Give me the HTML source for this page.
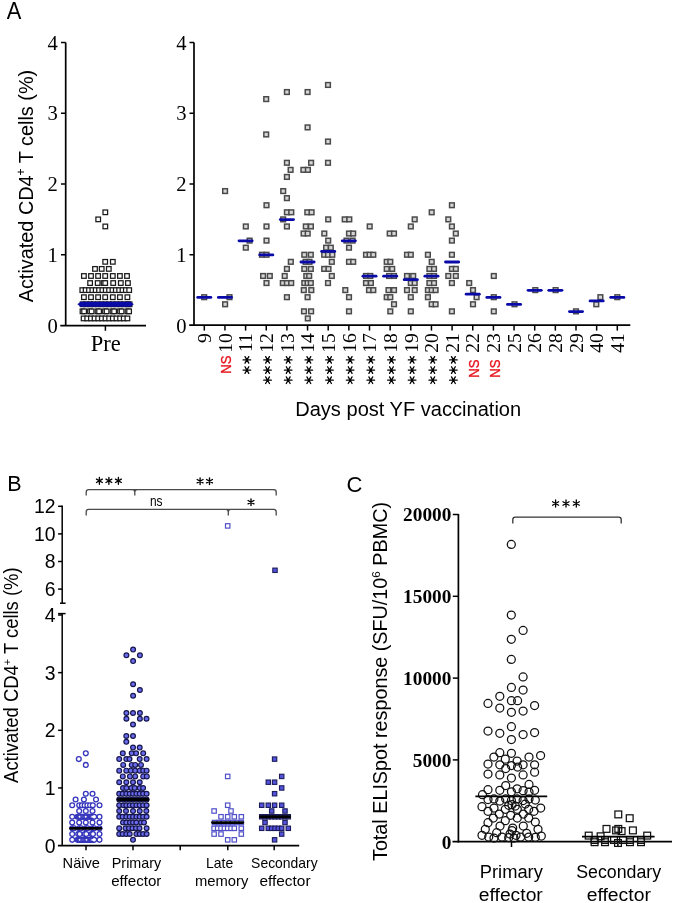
<!DOCTYPE html>
<html><head><meta charset="utf-8"><style>
html,body{margin:0;padding:0;background:#fff;}
svg{display:block;will-change:transform;}
</style></head><body>
<svg width="675" height="903" viewBox="0 0 675 903">
<rect width="675" height="903" fill="#fff"/>
<text x="6.8" y="18.8" font-family='"Liberation Sans", sans-serif' font-size="24.3" fill="#000" textLength="14.6" lengthAdjust="spacingAndGlyphs" >A</text>
<text x="7.3" y="491.2" font-family='"Liberation Sans", sans-serif' font-size="21.5" fill="#000" >B</text>
<text x="346.6" y="491.6" font-family='"Liberation Sans", sans-serif' font-size="22" fill="#000" >C</text>
<line x1="65.7" y1="42.4" x2="65.7" y2="325.6" stroke="#000" stroke-width="1.7" stroke-linecap="butt"/>
<line x1="60.3" y1="325.6" x2="146" y2="325.6" stroke="#000" stroke-width="1.8" stroke-linecap="butt"/>
<text x="57.9" y="332.7" font-family='"Liberation Serif", serif' font-size="20.6" fill="#000" text-anchor="end" >0</text>
<line x1="61" y1="254.75" x2="65.7" y2="254.75" stroke="#000" stroke-width="1.5" stroke-linecap="butt"/>
<text x="57.9" y="261.95" font-family='"Liberation Serif", serif' font-size="20.6" fill="#000" text-anchor="end" >1</text>
<line x1="61" y1="184" x2="65.7" y2="184" stroke="#000" stroke-width="1.5" stroke-linecap="butt"/>
<text x="57.9" y="191.2" font-family='"Liberation Serif", serif' font-size="20.6" fill="#000" text-anchor="end" >2</text>
<line x1="61" y1="113.25" x2="65.7" y2="113.25" stroke="#000" stroke-width="1.5" stroke-linecap="butt"/>
<text x="57.9" y="120.45" font-family='"Liberation Serif", serif' font-size="20.6" fill="#000" text-anchor="end" >3</text>
<line x1="61" y1="42.5" x2="65.7" y2="42.5" stroke="#000" stroke-width="1.5" stroke-linecap="butt"/>
<text x="57.9" y="49.7" font-family='"Liberation Serif", serif' font-size="20.6" fill="#000" text-anchor="end" >4</text>
<line x1="105.4" y1="325.6" x2="105.4" y2="330.8" stroke="#000" stroke-width="1.5" stroke-linecap="butt"/>
<text x="105.75" y="350.9" font-family='"Liberation Serif", serif' font-size="22.5" fill="#000" text-anchor="middle" >Pre</text>
<text transform="translate(32.6,302.3) rotate(-90)" font-family='"Liberation Sans", sans-serif' font-size="19.8" textLength="232.5" lengthAdjust="spacingAndGlyphs">Activated CD4<tspan font-size="12" dy="-7.5">+</tspan><tspan dy="7.5"> T cells (%)</tspan></text>
<rect x="103" y="210" width="4.6" height="4.6" fill="#fff" stroke="#1a1a1a" stroke-width="1.25"/>
<rect x="95.9" y="217.07" width="4.6" height="4.6" fill="#fff" stroke="#1a1a1a" stroke-width="1.25"/>
<rect x="103" y="224.15" width="4.6" height="4.6" fill="#fff" stroke="#1a1a1a" stroke-width="1.25"/>
<rect x="102.9" y="259.52" width="4.6" height="4.6" fill="#fff" stroke="#1a1a1a" stroke-width="1.25"/>
<rect x="110.5" y="259.52" width="4.6" height="4.6" fill="#fff" stroke="#1a1a1a" stroke-width="1.25"/>
<rect x="92.7" y="266.6" width="4.6" height="4.6" fill="#fff" stroke="#1a1a1a" stroke-width="1.25"/>
<rect x="99.4" y="266.6" width="4.6" height="4.6" fill="#fff" stroke="#1a1a1a" stroke-width="1.25"/>
<rect x="106.5" y="266.6" width="4.6" height="4.6" fill="#fff" stroke="#1a1a1a" stroke-width="1.25"/>
<rect x="81.6" y="273.68" width="4.6" height="4.6" fill="#fff" stroke="#1a1a1a" stroke-width="1.25"/>
<rect x="88.7" y="273.68" width="4.6" height="4.6" fill="#fff" stroke="#1a1a1a" stroke-width="1.25"/>
<rect x="95.8" y="273.68" width="4.6" height="4.6" fill="#fff" stroke="#1a1a1a" stroke-width="1.25"/>
<rect x="102.9" y="273.68" width="4.6" height="4.6" fill="#fff" stroke="#1a1a1a" stroke-width="1.25"/>
<rect x="110.5" y="273.68" width="4.6" height="4.6" fill="#fff" stroke="#1a1a1a" stroke-width="1.25"/>
<rect x="117.6" y="273.68" width="4.6" height="4.6" fill="#fff" stroke="#1a1a1a" stroke-width="1.25"/>
<rect x="124.7" y="273.68" width="4.6" height="4.6" fill="#fff" stroke="#1a1a1a" stroke-width="1.25"/>
<rect x="87.8" y="280.75" width="4.6" height="4.6" fill="#fff" stroke="#1a1a1a" stroke-width="1.25"/>
<rect x="95.4" y="280.75" width="4.6" height="4.6" fill="#fff" stroke="#1a1a1a" stroke-width="1.25"/>
<rect x="101.3" y="280.75" width="4.6" height="4.6" fill="#fff" stroke="#1a1a1a" stroke-width="1.25"/>
<rect x="102.9" y="280.75" width="4.6" height="4.6" fill="#fff" stroke="#1a1a1a" stroke-width="1.25"/>
<rect x="110.9" y="280.75" width="4.6" height="4.6" fill="#fff" stroke="#1a1a1a" stroke-width="1.25"/>
<rect x="118.5" y="280.75" width="4.6" height="4.6" fill="#fff" stroke="#1a1a1a" stroke-width="1.25"/>
<rect x="125.6" y="280.75" width="4.6" height="4.6" fill="#fff" stroke="#1a1a1a" stroke-width="1.25"/>
<rect x="80" y="287.82" width="4.6" height="4.6" fill="#fff" stroke="#1a1a1a" stroke-width="1.25"/>
<rect x="83.35" y="287.82" width="4.6" height="4.6" fill="#fff" stroke="#1a1a1a" stroke-width="1.25"/>
<rect x="86.7" y="287.82" width="4.6" height="4.6" fill="#fff" stroke="#1a1a1a" stroke-width="1.25"/>
<rect x="90.05" y="287.82" width="4.6" height="4.6" fill="#fff" stroke="#1a1a1a" stroke-width="1.25"/>
<rect x="93.4" y="287.82" width="4.6" height="4.6" fill="#fff" stroke="#1a1a1a" stroke-width="1.25"/>
<rect x="96.75" y="287.82" width="4.6" height="4.6" fill="#fff" stroke="#1a1a1a" stroke-width="1.25"/>
<rect x="100.1" y="287.82" width="4.6" height="4.6" fill="#fff" stroke="#1a1a1a" stroke-width="1.25"/>
<rect x="103.45" y="287.82" width="4.6" height="4.6" fill="#fff" stroke="#1a1a1a" stroke-width="1.25"/>
<rect x="106.8" y="287.82" width="4.6" height="4.6" fill="#fff" stroke="#1a1a1a" stroke-width="1.25"/>
<rect x="110.15" y="287.82" width="4.6" height="4.6" fill="#fff" stroke="#1a1a1a" stroke-width="1.25"/>
<rect x="113.5" y="287.82" width="4.6" height="4.6" fill="#fff" stroke="#1a1a1a" stroke-width="1.25"/>
<rect x="116.85" y="287.82" width="4.6" height="4.6" fill="#fff" stroke="#1a1a1a" stroke-width="1.25"/>
<rect x="120.2" y="287.82" width="4.6" height="4.6" fill="#fff" stroke="#1a1a1a" stroke-width="1.25"/>
<rect x="123.55" y="287.82" width="4.6" height="4.6" fill="#fff" stroke="#1a1a1a" stroke-width="1.25"/>
<rect x="126.9" y="287.82" width="4.6" height="4.6" fill="#fff" stroke="#1a1a1a" stroke-width="1.25"/>
<rect x="81.6" y="294.9" width="4.6" height="4.6" fill="#fff" stroke="#1a1a1a" stroke-width="1.25"/>
<rect x="88.7" y="294.9" width="4.6" height="4.6" fill="#fff" stroke="#1a1a1a" stroke-width="1.25"/>
<rect x="95.8" y="294.9" width="4.6" height="4.6" fill="#fff" stroke="#1a1a1a" stroke-width="1.25"/>
<rect x="102.9" y="294.9" width="4.6" height="4.6" fill="#fff" stroke="#1a1a1a" stroke-width="1.25"/>
<rect x="110.5" y="294.9" width="4.6" height="4.6" fill="#fff" stroke="#1a1a1a" stroke-width="1.25"/>
<rect x="117.6" y="294.9" width="4.6" height="4.6" fill="#fff" stroke="#1a1a1a" stroke-width="1.25"/>
<rect x="125.1" y="294.9" width="4.6" height="4.6" fill="#fff" stroke="#1a1a1a" stroke-width="1.25"/>
<rect x="80.3" y="301.97" width="4.6" height="4.6" fill="#fff" stroke="#1a1a1a" stroke-width="1.25"/>
<rect x="83.7" y="301.97" width="4.6" height="4.6" fill="#fff" stroke="#1a1a1a" stroke-width="1.25"/>
<rect x="87.8" y="301.97" width="4.6" height="4.6" fill="#fff" stroke="#1a1a1a" stroke-width="1.25"/>
<rect x="91.2" y="301.97" width="4.6" height="4.6" fill="#fff" stroke="#1a1a1a" stroke-width="1.25"/>
<rect x="95.4" y="301.97" width="4.6" height="4.6" fill="#fff" stroke="#1a1a1a" stroke-width="1.25"/>
<rect x="99.2" y="301.97" width="4.6" height="4.6" fill="#fff" stroke="#1a1a1a" stroke-width="1.25"/>
<rect x="102.9" y="301.97" width="4.6" height="4.6" fill="#fff" stroke="#1a1a1a" stroke-width="1.25"/>
<rect x="106.7" y="301.97" width="4.6" height="4.6" fill="#fff" stroke="#1a1a1a" stroke-width="1.25"/>
<rect x="110.5" y="301.97" width="4.6" height="4.6" fill="#fff" stroke="#1a1a1a" stroke-width="1.25"/>
<rect x="114.2" y="301.97" width="4.6" height="4.6" fill="#fff" stroke="#1a1a1a" stroke-width="1.25"/>
<rect x="118" y="301.97" width="4.6" height="4.6" fill="#fff" stroke="#1a1a1a" stroke-width="1.25"/>
<rect x="121.7" y="301.97" width="4.6" height="4.6" fill="#fff" stroke="#1a1a1a" stroke-width="1.25"/>
<rect x="125.6" y="301.97" width="4.6" height="4.6" fill="#fff" stroke="#1a1a1a" stroke-width="1.25"/>
<rect x="127.3" y="301.97" width="4.6" height="4.6" fill="#fff" stroke="#1a1a1a" stroke-width="1.25"/>
<rect x="80.2" y="309.05" width="4.6" height="4.6" fill="#fff" stroke="#1a1a1a" stroke-width="1.25"/>
<rect x="81.8" y="309.05" width="4.6" height="4.6" fill="#fff" stroke="#1a1a1a" stroke-width="1.25"/>
<rect x="87.7" y="309.05" width="4.6" height="4.6" fill="#fff" stroke="#1a1a1a" stroke-width="1.25"/>
<rect x="89.3" y="309.05" width="4.6" height="4.6" fill="#fff" stroke="#1a1a1a" stroke-width="1.25"/>
<rect x="95.2" y="309.05" width="4.6" height="4.6" fill="#fff" stroke="#1a1a1a" stroke-width="1.25"/>
<rect x="96.8" y="309.05" width="4.6" height="4.6" fill="#fff" stroke="#1a1a1a" stroke-width="1.25"/>
<rect x="102.7" y="309.05" width="4.6" height="4.6" fill="#fff" stroke="#1a1a1a" stroke-width="1.25"/>
<rect x="104.3" y="309.05" width="4.6" height="4.6" fill="#fff" stroke="#1a1a1a" stroke-width="1.25"/>
<rect x="110.2" y="309.05" width="4.6" height="4.6" fill="#fff" stroke="#1a1a1a" stroke-width="1.25"/>
<rect x="111.8" y="309.05" width="4.6" height="4.6" fill="#fff" stroke="#1a1a1a" stroke-width="1.25"/>
<rect x="117.7" y="309.05" width="4.6" height="4.6" fill="#fff" stroke="#1a1a1a" stroke-width="1.25"/>
<rect x="119.3" y="309.05" width="4.6" height="4.6" fill="#fff" stroke="#1a1a1a" stroke-width="1.25"/>
<rect x="125.2" y="309.05" width="4.6" height="4.6" fill="#fff" stroke="#1a1a1a" stroke-width="1.25"/>
<rect x="126.8" y="309.05" width="4.6" height="4.6" fill="#fff" stroke="#1a1a1a" stroke-width="1.25"/>
<rect x="81.3" y="316.12" width="4.6" height="4.6" fill="#fff" stroke="#1a1a1a" stroke-width="1.25"/>
<rect x="84.95" y="316.12" width="4.6" height="4.6" fill="#fff" stroke="#1a1a1a" stroke-width="1.25"/>
<rect x="88.6" y="316.12" width="4.6" height="4.6" fill="#fff" stroke="#1a1a1a" stroke-width="1.25"/>
<rect x="92.25" y="316.12" width="4.6" height="4.6" fill="#fff" stroke="#1a1a1a" stroke-width="1.25"/>
<rect x="95.9" y="316.12" width="4.6" height="4.6" fill="#fff" stroke="#1a1a1a" stroke-width="1.25"/>
<rect x="99.55" y="316.12" width="4.6" height="4.6" fill="#fff" stroke="#1a1a1a" stroke-width="1.25"/>
<rect x="103.2" y="316.12" width="4.6" height="4.6" fill="#fff" stroke="#1a1a1a" stroke-width="1.25"/>
<rect x="106.85" y="316.12" width="4.6" height="4.6" fill="#fff" stroke="#1a1a1a" stroke-width="1.25"/>
<rect x="110.5" y="316.12" width="4.6" height="4.6" fill="#fff" stroke="#1a1a1a" stroke-width="1.25"/>
<rect x="114.15" y="316.12" width="4.6" height="4.6" fill="#fff" stroke="#1a1a1a" stroke-width="1.25"/>
<rect x="117.8" y="316.12" width="4.6" height="4.6" fill="#fff" stroke="#1a1a1a" stroke-width="1.25"/>
<rect x="121.45" y="316.12" width="4.6" height="4.6" fill="#fff" stroke="#1a1a1a" stroke-width="1.25"/>
<rect x="125.1" y="316.12" width="4.6" height="4.6" fill="#fff" stroke="#1a1a1a" stroke-width="1.25"/>
<polygon points="77.4,304.27 80.6,301.77 130.6,301.77 133.8,304.27 130.6,306.77 80.6,306.77" fill="#0a0aa8"/>
<line x1="194" y1="42.4" x2="194" y2="325.4" stroke="#000" stroke-width="1.7" stroke-linecap="butt"/>
<line x1="189.2" y1="325.2" x2="630.3" y2="325.2" stroke="#000" stroke-width="1.8" stroke-linecap="butt"/>
<text x="186.5" y="332.7" font-family='"Liberation Serif", serif' font-size="20.6" fill="#000" text-anchor="end" >0</text>
<line x1="189.5" y1="254.75" x2="194" y2="254.75" stroke="#000" stroke-width="1.5" stroke-linecap="butt"/>
<text x="186.5" y="261.95" font-family='"Liberation Serif", serif' font-size="20.6" fill="#000" text-anchor="end" >1</text>
<line x1="189.5" y1="184" x2="194" y2="184" stroke="#000" stroke-width="1.5" stroke-linecap="butt"/>
<text x="186.5" y="191.2" font-family='"Liberation Serif", serif' font-size="20.6" fill="#000" text-anchor="end" >2</text>
<line x1="189.5" y1="113.25" x2="194" y2="113.25" stroke="#000" stroke-width="1.5" stroke-linecap="butt"/>
<text x="186.5" y="120.45" font-family='"Liberation Serif", serif' font-size="20.6" fill="#000" text-anchor="end" >3</text>
<line x1="189.5" y1="42.5" x2="194" y2="42.5" stroke="#000" stroke-width="1.5" stroke-linecap="butt"/>
<text x="186.5" y="49.7" font-family='"Liberation Serif", serif' font-size="20.6" fill="#000" text-anchor="end" >4</text>
<line x1="204.3" y1="325.2" x2="204.3" y2="330.6" stroke="#000" stroke-width="1.5" stroke-linecap="butt"/>
<text transform="translate(211,333.2) rotate(-90)" font-family='"Liberation Serif", serif' font-size="19.6" text-anchor="end">9</text>
<line x1="224.95" y1="325.2" x2="224.95" y2="330.6" stroke="#000" stroke-width="1.5" stroke-linecap="butt"/>
<text transform="translate(231.65,333.2) rotate(-90)" font-family='"Liberation Serif", serif' font-size="19.6" text-anchor="end">10</text>
<line x1="245.6" y1="325.2" x2="245.6" y2="330.6" stroke="#000" stroke-width="1.5" stroke-linecap="butt"/>
<text transform="translate(252.3,333.2) rotate(-90)" font-family='"Liberation Serif", serif' font-size="19.6" text-anchor="end">11</text>
<line x1="266.25" y1="325.2" x2="266.25" y2="330.6" stroke="#000" stroke-width="1.5" stroke-linecap="butt"/>
<text transform="translate(272.95,333.2) rotate(-90)" font-family='"Liberation Serif", serif' font-size="19.6" text-anchor="end">12</text>
<line x1="286.9" y1="325.2" x2="286.9" y2="330.6" stroke="#000" stroke-width="1.5" stroke-linecap="butt"/>
<text transform="translate(293.6,333.2) rotate(-90)" font-family='"Liberation Serif", serif' font-size="19.6" text-anchor="end">13</text>
<line x1="307.55" y1="325.2" x2="307.55" y2="330.6" stroke="#000" stroke-width="1.5" stroke-linecap="butt"/>
<text transform="translate(314.25,333.2) rotate(-90)" font-family='"Liberation Serif", serif' font-size="19.6" text-anchor="end">14</text>
<line x1="328.2" y1="325.2" x2="328.2" y2="330.6" stroke="#000" stroke-width="1.5" stroke-linecap="butt"/>
<text transform="translate(334.9,333.2) rotate(-90)" font-family='"Liberation Serif", serif' font-size="19.6" text-anchor="end">15</text>
<line x1="348.85" y1="325.2" x2="348.85" y2="330.6" stroke="#000" stroke-width="1.5" stroke-linecap="butt"/>
<text transform="translate(355.55,333.2) rotate(-90)" font-family='"Liberation Serif", serif' font-size="19.6" text-anchor="end">16</text>
<line x1="369.5" y1="325.2" x2="369.5" y2="330.6" stroke="#000" stroke-width="1.5" stroke-linecap="butt"/>
<text transform="translate(376.2,333.2) rotate(-90)" font-family='"Liberation Serif", serif' font-size="19.6" text-anchor="end">17</text>
<line x1="390.15" y1="325.2" x2="390.15" y2="330.6" stroke="#000" stroke-width="1.5" stroke-linecap="butt"/>
<text transform="translate(396.85,333.2) rotate(-90)" font-family='"Liberation Serif", serif' font-size="19.6" text-anchor="end">18</text>
<line x1="410.8" y1="325.2" x2="410.8" y2="330.6" stroke="#000" stroke-width="1.5" stroke-linecap="butt"/>
<text transform="translate(417.5,333.2) rotate(-90)" font-family='"Liberation Serif", serif' font-size="19.6" text-anchor="end">19</text>
<line x1="431.45" y1="325.2" x2="431.45" y2="330.6" stroke="#000" stroke-width="1.5" stroke-linecap="butt"/>
<text transform="translate(438.15,333.2) rotate(-90)" font-family='"Liberation Serif", serif' font-size="19.6" text-anchor="end">20</text>
<line x1="452.1" y1="325.2" x2="452.1" y2="330.6" stroke="#000" stroke-width="1.5" stroke-linecap="butt"/>
<text transform="translate(458.8,333.2) rotate(-90)" font-family='"Liberation Serif", serif' font-size="19.6" text-anchor="end">21</text>
<line x1="472.75" y1="325.2" x2="472.75" y2="330.6" stroke="#000" stroke-width="1.5" stroke-linecap="butt"/>
<text transform="translate(479.45,333.2) rotate(-90)" font-family='"Liberation Serif", serif' font-size="19.6" text-anchor="end">22</text>
<line x1="493.4" y1="325.2" x2="493.4" y2="330.6" stroke="#000" stroke-width="1.5" stroke-linecap="butt"/>
<text transform="translate(500.1,333.2) rotate(-90)" font-family='"Liberation Serif", serif' font-size="19.6" text-anchor="end">23</text>
<line x1="514.05" y1="325.2" x2="514.05" y2="330.6" stroke="#000" stroke-width="1.5" stroke-linecap="butt"/>
<text transform="translate(520.75,333.2) rotate(-90)" font-family='"Liberation Serif", serif' font-size="19.6" text-anchor="end">25</text>
<line x1="534.7" y1="325.2" x2="534.7" y2="330.6" stroke="#000" stroke-width="1.5" stroke-linecap="butt"/>
<text transform="translate(541.4,333.2) rotate(-90)" font-family='"Liberation Serif", serif' font-size="19.6" text-anchor="end">26</text>
<line x1="555.35" y1="325.2" x2="555.35" y2="330.6" stroke="#000" stroke-width="1.5" stroke-linecap="butt"/>
<text transform="translate(562.05,333.2) rotate(-90)" font-family='"Liberation Serif", serif' font-size="19.6" text-anchor="end">28</text>
<line x1="576" y1="325.2" x2="576" y2="330.6" stroke="#000" stroke-width="1.5" stroke-linecap="butt"/>
<text transform="translate(582.7,333.2) rotate(-90)" font-family='"Liberation Serif", serif' font-size="19.6" text-anchor="end">29</text>
<line x1="596.65" y1="325.2" x2="596.65" y2="330.6" stroke="#000" stroke-width="1.5" stroke-linecap="butt"/>
<text transform="translate(603.35,333.2) rotate(-90)" font-family='"Liberation Serif", serif' font-size="19.6" text-anchor="end">40</text>
<line x1="617.3" y1="325.2" x2="617.3" y2="330.6" stroke="#000" stroke-width="1.5" stroke-linecap="butt"/>
<text transform="translate(624,333.2) rotate(-90)" font-family='"Liberation Serif", serif' font-size="19.6" text-anchor="end">41</text>
<text transform="translate(231.05,355.5) rotate(-90)" font-family='"Liberation Sans", sans-serif' font-size="15" fill="#e8141e" stroke="#e8141e" stroke-width="0.35" text-anchor="end" textLength="18.2" lengthAdjust="spacingAndGlyphs">NS</text>
<path d="M243.1 359.9L250.7 359.9M245 356.61L248.8 363.19M248.8 356.61L245 363.19" stroke="#000" stroke-width="1.3" stroke-linecap="round" fill="none"/>
<path d="M243.1 370.05L250.7 370.05M245 366.76L248.8 373.34M248.8 366.76L245 373.34" stroke="#000" stroke-width="1.3" stroke-linecap="round" fill="none"/>
<path d="M263.75 359.9L271.35 359.9M265.65 356.61L269.45 363.19M269.45 356.61L265.65 363.19" stroke="#000" stroke-width="1.3" stroke-linecap="round" fill="none"/>
<path d="M263.75 370.05L271.35 370.05M265.65 366.76L269.45 373.34M269.45 366.76L265.65 373.34" stroke="#000" stroke-width="1.3" stroke-linecap="round" fill="none"/>
<path d="M263.75 380.2L271.35 380.2M265.65 376.91L269.45 383.49M269.45 376.91L265.65 383.49" stroke="#000" stroke-width="1.3" stroke-linecap="round" fill="none"/>
<path d="M284.4 359.9L292 359.9M286.3 356.61L290.1 363.19M290.1 356.61L286.3 363.19" stroke="#000" stroke-width="1.3" stroke-linecap="round" fill="none"/>
<path d="M284.4 370.05L292 370.05M286.3 366.76L290.1 373.34M290.1 366.76L286.3 373.34" stroke="#000" stroke-width="1.3" stroke-linecap="round" fill="none"/>
<path d="M284.4 380.2L292 380.2M286.3 376.91L290.1 383.49M290.1 376.91L286.3 383.49" stroke="#000" stroke-width="1.3" stroke-linecap="round" fill="none"/>
<path d="M305.05 359.9L312.65 359.9M306.95 356.61L310.75 363.19M310.75 356.61L306.95 363.19" stroke="#000" stroke-width="1.3" stroke-linecap="round" fill="none"/>
<path d="M305.05 370.05L312.65 370.05M306.95 366.76L310.75 373.34M310.75 366.76L306.95 373.34" stroke="#000" stroke-width="1.3" stroke-linecap="round" fill="none"/>
<path d="M305.05 380.2L312.65 380.2M306.95 376.91L310.75 383.49M310.75 376.91L306.95 383.49" stroke="#000" stroke-width="1.3" stroke-linecap="round" fill="none"/>
<path d="M325.7 359.9L333.3 359.9M327.6 356.61L331.4 363.19M331.4 356.61L327.6 363.19" stroke="#000" stroke-width="1.3" stroke-linecap="round" fill="none"/>
<path d="M325.7 370.05L333.3 370.05M327.6 366.76L331.4 373.34M331.4 366.76L327.6 373.34" stroke="#000" stroke-width="1.3" stroke-linecap="round" fill="none"/>
<path d="M325.7 380.2L333.3 380.2M327.6 376.91L331.4 383.49M331.4 376.91L327.6 383.49" stroke="#000" stroke-width="1.3" stroke-linecap="round" fill="none"/>
<path d="M346.35 359.9L353.95 359.9M348.25 356.61L352.05 363.19M352.05 356.61L348.25 363.19" stroke="#000" stroke-width="1.3" stroke-linecap="round" fill="none"/>
<path d="M346.35 370.05L353.95 370.05M348.25 366.76L352.05 373.34M352.05 366.76L348.25 373.34" stroke="#000" stroke-width="1.3" stroke-linecap="round" fill="none"/>
<path d="M346.35 380.2L353.95 380.2M348.25 376.91L352.05 383.49M352.05 376.91L348.25 383.49" stroke="#000" stroke-width="1.3" stroke-linecap="round" fill="none"/>
<path d="M367 359.9L374.6 359.9M368.9 356.61L372.7 363.19M372.7 356.61L368.9 363.19" stroke="#000" stroke-width="1.3" stroke-linecap="round" fill="none"/>
<path d="M367 370.05L374.6 370.05M368.9 366.76L372.7 373.34M372.7 366.76L368.9 373.34" stroke="#000" stroke-width="1.3" stroke-linecap="round" fill="none"/>
<path d="M367 380.2L374.6 380.2M368.9 376.91L372.7 383.49M372.7 376.91L368.9 383.49" stroke="#000" stroke-width="1.3" stroke-linecap="round" fill="none"/>
<path d="M387.65 359.9L395.25 359.9M389.55 356.61L393.35 363.19M393.35 356.61L389.55 363.19" stroke="#000" stroke-width="1.3" stroke-linecap="round" fill="none"/>
<path d="M387.65 370.05L395.25 370.05M389.55 366.76L393.35 373.34M393.35 366.76L389.55 373.34" stroke="#000" stroke-width="1.3" stroke-linecap="round" fill="none"/>
<path d="M387.65 380.2L395.25 380.2M389.55 376.91L393.35 383.49M393.35 376.91L389.55 383.49" stroke="#000" stroke-width="1.3" stroke-linecap="round" fill="none"/>
<path d="M408.3 359.9L415.9 359.9M410.2 356.61L414 363.19M414 356.61L410.2 363.19" stroke="#000" stroke-width="1.3" stroke-linecap="round" fill="none"/>
<path d="M408.3 370.05L415.9 370.05M410.2 366.76L414 373.34M414 366.76L410.2 373.34" stroke="#000" stroke-width="1.3" stroke-linecap="round" fill="none"/>
<path d="M408.3 380.2L415.9 380.2M410.2 376.91L414 383.49M414 376.91L410.2 383.49" stroke="#000" stroke-width="1.3" stroke-linecap="round" fill="none"/>
<path d="M428.95 359.9L436.55 359.9M430.85 356.61L434.65 363.19M434.65 356.61L430.85 363.19" stroke="#000" stroke-width="1.3" stroke-linecap="round" fill="none"/>
<path d="M428.95 370.05L436.55 370.05M430.85 366.76L434.65 373.34M434.65 366.76L430.85 373.34" stroke="#000" stroke-width="1.3" stroke-linecap="round" fill="none"/>
<path d="M428.95 380.2L436.55 380.2M430.85 376.91L434.65 383.49M434.65 376.91L430.85 383.49" stroke="#000" stroke-width="1.3" stroke-linecap="round" fill="none"/>
<path d="M449.6 359.9L457.2 359.9M451.5 356.61L455.3 363.19M455.3 356.61L451.5 363.19" stroke="#000" stroke-width="1.3" stroke-linecap="round" fill="none"/>
<path d="M449.6 370.05L457.2 370.05M451.5 366.76L455.3 373.34M455.3 366.76L451.5 373.34" stroke="#000" stroke-width="1.3" stroke-linecap="round" fill="none"/>
<path d="M449.6 380.2L457.2 380.2M451.5 376.91L455.3 383.49M455.3 376.91L451.5 383.49" stroke="#000" stroke-width="1.3" stroke-linecap="round" fill="none"/>
<text transform="translate(478.85,359.5) rotate(-90)" font-family='"Liberation Sans", sans-serif' font-size="15" fill="#e8141e" stroke="#e8141e" stroke-width="0.35" text-anchor="end" textLength="18.2" lengthAdjust="spacingAndGlyphs">NS</text>
<text transform="translate(499.5,359.5) rotate(-90)" font-family='"Liberation Sans", sans-serif' font-size="15" fill="#e8141e" stroke="#e8141e" stroke-width="0.35" text-anchor="end" textLength="18.2" lengthAdjust="spacingAndGlyphs">NS</text>
<text x="295.2" y="416" font-family='"Liberation Sans", sans-serif' font-size="20" fill="#000" textLength="226" lengthAdjust="spacingAndGlyphs" >Days post YF vaccination</text>
<rect x="201.85" y="294.85" width="4.7" height="4.7" fill="#d6d6d6" stroke="#4a4a4a" stroke-width="1.5"/>
<rect x="222.75" y="188.73" width="4.7" height="4.7" fill="#d6d6d6" stroke="#4a4a4a" stroke-width="1.5"/>
<rect x="227.15" y="294.85" width="4.7" height="4.7" fill="#d6d6d6" stroke="#4a4a4a" stroke-width="1.5"/>
<rect x="222.75" y="301.92" width="4.7" height="4.7" fill="#d6d6d6" stroke="#4a4a4a" stroke-width="1.5"/>
<rect x="243.45" y="224.1" width="4.7" height="4.7" fill="#d6d6d6" stroke="#4a4a4a" stroke-width="1.5"/>
<rect x="247.25" y="238.25" width="4.7" height="4.7" fill="#d6d6d6" stroke="#4a4a4a" stroke-width="1.5"/>
<rect x="243.45" y="245.33" width="4.7" height="4.7" fill="#d6d6d6" stroke="#4a4a4a" stroke-width="1.5"/>
<rect x="263.85" y="96.75" width="4.7" height="4.7" fill="#d6d6d6" stroke="#4a4a4a" stroke-width="1.5"/>
<rect x="263.85" y="132.12" width="4.7" height="4.7" fill="#d6d6d6" stroke="#4a4a4a" stroke-width="1.5"/>
<rect x="264.15" y="202.88" width="4.7" height="4.7" fill="#d6d6d6" stroke="#4a4a4a" stroke-width="1.5"/>
<rect x="264.15" y="224.1" width="4.7" height="4.7" fill="#d6d6d6" stroke="#4a4a4a" stroke-width="1.5"/>
<rect x="264.15" y="238.25" width="4.7" height="4.7" fill="#d6d6d6" stroke="#4a4a4a" stroke-width="1.5"/>
<rect x="259.65" y="252.4" width="4.7" height="4.7" fill="#d6d6d6" stroke="#4a4a4a" stroke-width="1.5"/>
<rect x="264.15" y="252.4" width="4.7" height="4.7" fill="#d6d6d6" stroke="#4a4a4a" stroke-width="1.5"/>
<rect x="260.75" y="273.62" width="4.7" height="4.7" fill="#d6d6d6" stroke="#4a4a4a" stroke-width="1.5"/>
<rect x="267.45" y="273.62" width="4.7" height="4.7" fill="#d6d6d6" stroke="#4a4a4a" stroke-width="1.5"/>
<rect x="264.15" y="280.7" width="4.7" height="4.7" fill="#d6d6d6" stroke="#4a4a4a" stroke-width="1.5"/>
<rect x="284.55" y="89.68" width="4.7" height="4.7" fill="#d6d6d6" stroke="#4a4a4a" stroke-width="1.5"/>
<rect x="284.55" y="160.43" width="4.7" height="4.7" fill="#d6d6d6" stroke="#4a4a4a" stroke-width="1.5"/>
<rect x="288.25" y="167.5" width="4.7" height="4.7" fill="#d6d6d6" stroke="#4a4a4a" stroke-width="1.5"/>
<rect x="284.55" y="174.57" width="4.7" height="4.7" fill="#d6d6d6" stroke="#4a4a4a" stroke-width="1.5"/>
<rect x="280.85" y="188.73" width="4.7" height="4.7" fill="#d6d6d6" stroke="#4a4a4a" stroke-width="1.5"/>
<rect x="284.55" y="195.8" width="4.7" height="4.7" fill="#d6d6d6" stroke="#4a4a4a" stroke-width="1.5"/>
<rect x="284.55" y="209.95" width="4.7" height="4.7" fill="#d6d6d6" stroke="#4a4a4a" stroke-width="1.5"/>
<rect x="288.95" y="209.95" width="4.7" height="4.7" fill="#d6d6d6" stroke="#4a4a4a" stroke-width="1.5"/>
<rect x="280.85" y="217.03" width="4.7" height="4.7" fill="#d6d6d6" stroke="#4a4a4a" stroke-width="1.5"/>
<rect x="284.55" y="224.1" width="4.7" height="4.7" fill="#d6d6d6" stroke="#4a4a4a" stroke-width="1.5"/>
<rect x="288.45" y="259.47" width="4.7" height="4.7" fill="#d6d6d6" stroke="#4a4a4a" stroke-width="1.5"/>
<rect x="284.55" y="266.55" width="4.7" height="4.7" fill="#d6d6d6" stroke="#4a4a4a" stroke-width="1.5"/>
<rect x="282.35" y="273.62" width="4.7" height="4.7" fill="#d6d6d6" stroke="#4a4a4a" stroke-width="1.5"/>
<rect x="280.45" y="280.7" width="4.7" height="4.7" fill="#d6d6d6" stroke="#4a4a4a" stroke-width="1.5"/>
<rect x="284.55" y="280.7" width="4.7" height="4.7" fill="#d6d6d6" stroke="#4a4a4a" stroke-width="1.5"/>
<rect x="288.85" y="280.7" width="4.7" height="4.7" fill="#d6d6d6" stroke="#4a4a4a" stroke-width="1.5"/>
<rect x="284.55" y="294.85" width="4.7" height="4.7" fill="#d6d6d6" stroke="#4a4a4a" stroke-width="1.5"/>
<rect x="305.25" y="89.68" width="4.7" height="4.7" fill="#d6d6d6" stroke="#4a4a4a" stroke-width="1.5"/>
<rect x="305.25" y="125.05" width="4.7" height="4.7" fill="#d6d6d6" stroke="#4a4a4a" stroke-width="1.5"/>
<rect x="308.75" y="160.43" width="4.7" height="4.7" fill="#d6d6d6" stroke="#4a4a4a" stroke-width="1.5"/>
<rect x="301.05" y="167.5" width="4.7" height="4.7" fill="#d6d6d6" stroke="#4a4a4a" stroke-width="1.5"/>
<rect x="305.55" y="167.5" width="4.7" height="4.7" fill="#d6d6d6" stroke="#4a4a4a" stroke-width="1.5"/>
<rect x="304.95" y="209.95" width="4.7" height="4.7" fill="#d6d6d6" stroke="#4a4a4a" stroke-width="1.5"/>
<rect x="309.25" y="209.95" width="4.7" height="4.7" fill="#d6d6d6" stroke="#4a4a4a" stroke-width="1.5"/>
<rect x="303.45" y="224.1" width="4.7" height="4.7" fill="#d6d6d6" stroke="#4a4a4a" stroke-width="1.5"/>
<rect x="308.55" y="224.1" width="4.7" height="4.7" fill="#d6d6d6" stroke="#4a4a4a" stroke-width="1.5"/>
<rect x="301.25" y="231.17" width="4.7" height="4.7" fill="#d6d6d6" stroke="#4a4a4a" stroke-width="1.5"/>
<rect x="305.35" y="231.17" width="4.7" height="4.7" fill="#d6d6d6" stroke="#4a4a4a" stroke-width="1.5"/>
<rect x="301.95" y="252.4" width="4.7" height="4.7" fill="#d6d6d6" stroke="#4a4a4a" stroke-width="1.5"/>
<rect x="308.45" y="252.4" width="4.7" height="4.7" fill="#d6d6d6" stroke="#4a4a4a" stroke-width="1.5"/>
<rect x="303.25" y="259.47" width="4.7" height="4.7" fill="#d6d6d6" stroke="#4a4a4a" stroke-width="1.5"/>
<rect x="307.15" y="259.47" width="4.7" height="4.7" fill="#d6d6d6" stroke="#4a4a4a" stroke-width="1.5"/>
<rect x="301.95" y="266.55" width="4.7" height="4.7" fill="#d6d6d6" stroke="#4a4a4a" stroke-width="1.5"/>
<rect x="308.45" y="266.55" width="4.7" height="4.7" fill="#d6d6d6" stroke="#4a4a4a" stroke-width="1.5"/>
<rect x="303.95" y="273.62" width="4.7" height="4.7" fill="#d6d6d6" stroke="#4a4a4a" stroke-width="1.5"/>
<rect x="306.85" y="273.62" width="4.7" height="4.7" fill="#d6d6d6" stroke="#4a4a4a" stroke-width="1.5"/>
<rect x="301.95" y="280.7" width="4.7" height="4.7" fill="#d6d6d6" stroke="#4a4a4a" stroke-width="1.5"/>
<rect x="305.25" y="280.7" width="4.7" height="4.7" fill="#d6d6d6" stroke="#4a4a4a" stroke-width="1.5"/>
<rect x="308.45" y="280.7" width="4.7" height="4.7" fill="#d6d6d6" stroke="#4a4a4a" stroke-width="1.5"/>
<rect x="301.45" y="287.77" width="4.7" height="4.7" fill="#d6d6d6" stroke="#4a4a4a" stroke-width="1.5"/>
<rect x="308.95" y="287.77" width="4.7" height="4.7" fill="#d6d6d6" stroke="#4a4a4a" stroke-width="1.5"/>
<rect x="305.25" y="294.85" width="4.7" height="4.7" fill="#d6d6d6" stroke="#4a4a4a" stroke-width="1.5"/>
<rect x="301.65" y="309" width="4.7" height="4.7" fill="#d6d6d6" stroke="#4a4a4a" stroke-width="1.5"/>
<rect x="308.75" y="309" width="4.7" height="4.7" fill="#d6d6d6" stroke="#4a4a4a" stroke-width="1.5"/>
<rect x="305.45" y="316.07" width="4.7" height="4.7" fill="#d6d6d6" stroke="#4a4a4a" stroke-width="1.5"/>
<rect x="325.65" y="82.6" width="4.7" height="4.7" fill="#d6d6d6" stroke="#4a4a4a" stroke-width="1.5"/>
<rect x="325.65" y="139.2" width="4.7" height="4.7" fill="#d6d6d6" stroke="#4a4a4a" stroke-width="1.5"/>
<rect x="325.65" y="160.43" width="4.7" height="4.7" fill="#d6d6d6" stroke="#4a4a4a" stroke-width="1.5"/>
<rect x="325.85" y="217.03" width="4.7" height="4.7" fill="#d6d6d6" stroke="#4a4a4a" stroke-width="1.5"/>
<rect x="321.95" y="231.17" width="4.7" height="4.7" fill="#d6d6d6" stroke="#4a4a4a" stroke-width="1.5"/>
<rect x="325.85" y="238.25" width="4.7" height="4.7" fill="#d6d6d6" stroke="#4a4a4a" stroke-width="1.5"/>
<rect x="323.75" y="245.33" width="4.7" height="4.7" fill="#d6d6d6" stroke="#4a4a4a" stroke-width="1.5"/>
<rect x="328.45" y="245.33" width="4.7" height="4.7" fill="#d6d6d6" stroke="#4a4a4a" stroke-width="1.5"/>
<rect x="321.85" y="252.4" width="4.7" height="4.7" fill="#d6d6d6" stroke="#4a4a4a" stroke-width="1.5"/>
<rect x="325.65" y="252.4" width="4.7" height="4.7" fill="#d6d6d6" stroke="#4a4a4a" stroke-width="1.5"/>
<rect x="329.95" y="252.4" width="4.7" height="4.7" fill="#d6d6d6" stroke="#4a4a4a" stroke-width="1.5"/>
<rect x="329.45" y="259.47" width="4.7" height="4.7" fill="#d6d6d6" stroke="#4a4a4a" stroke-width="1.5"/>
<rect x="321.85" y="266.55" width="4.7" height="4.7" fill="#d6d6d6" stroke="#4a4a4a" stroke-width="1.5"/>
<rect x="326.15" y="266.55" width="4.7" height="4.7" fill="#d6d6d6" stroke="#4a4a4a" stroke-width="1.5"/>
<rect x="329.45" y="273.62" width="4.7" height="4.7" fill="#d6d6d6" stroke="#4a4a4a" stroke-width="1.5"/>
<rect x="325.65" y="280.7" width="4.7" height="4.7" fill="#d6d6d6" stroke="#4a4a4a" stroke-width="1.5"/>
<rect x="342.35" y="217.03" width="4.7" height="4.7" fill="#d6d6d6" stroke="#4a4a4a" stroke-width="1.5"/>
<rect x="346.95" y="217.03" width="4.7" height="4.7" fill="#d6d6d6" stroke="#4a4a4a" stroke-width="1.5"/>
<rect x="346.65" y="231.17" width="4.7" height="4.7" fill="#d6d6d6" stroke="#4a4a4a" stroke-width="1.5"/>
<rect x="350.85" y="231.17" width="4.7" height="4.7" fill="#d6d6d6" stroke="#4a4a4a" stroke-width="1.5"/>
<rect x="344.15" y="238.25" width="4.7" height="4.7" fill="#d6d6d6" stroke="#4a4a4a" stroke-width="1.5"/>
<rect x="350.25" y="238.25" width="4.7" height="4.7" fill="#d6d6d6" stroke="#4a4a4a" stroke-width="1.5"/>
<rect x="346.65" y="245.33" width="4.7" height="4.7" fill="#d6d6d6" stroke="#4a4a4a" stroke-width="1.5"/>
<rect x="346.65" y="259.47" width="4.7" height="4.7" fill="#d6d6d6" stroke="#4a4a4a" stroke-width="1.5"/>
<rect x="350.85" y="259.47" width="4.7" height="4.7" fill="#d6d6d6" stroke="#4a4a4a" stroke-width="1.5"/>
<rect x="342.95" y="287.77" width="4.7" height="4.7" fill="#d6d6d6" stroke="#4a4a4a" stroke-width="1.5"/>
<rect x="346.65" y="294.85" width="4.7" height="4.7" fill="#d6d6d6" stroke="#4a4a4a" stroke-width="1.5"/>
<rect x="346.65" y="309" width="4.7" height="4.7" fill="#d6d6d6" stroke="#4a4a4a" stroke-width="1.5"/>
<rect x="367.35" y="224.1" width="4.7" height="4.7" fill="#d6d6d6" stroke="#4a4a4a" stroke-width="1.5"/>
<rect x="363.65" y="252.4" width="4.7" height="4.7" fill="#d6d6d6" stroke="#4a4a4a" stroke-width="1.5"/>
<rect x="367.25" y="252.4" width="4.7" height="4.7" fill="#d6d6d6" stroke="#4a4a4a" stroke-width="1.5"/>
<rect x="370.95" y="252.4" width="4.7" height="4.7" fill="#d6d6d6" stroke="#4a4a4a" stroke-width="1.5"/>
<rect x="363.65" y="273.62" width="4.7" height="4.7" fill="#d6d6d6" stroke="#4a4a4a" stroke-width="1.5"/>
<rect x="367.95" y="273.62" width="4.7" height="4.7" fill="#d6d6d6" stroke="#4a4a4a" stroke-width="1.5"/>
<rect x="363.65" y="280.7" width="4.7" height="4.7" fill="#d6d6d6" stroke="#4a4a4a" stroke-width="1.5"/>
<rect x="368.55" y="280.7" width="4.7" height="4.7" fill="#d6d6d6" stroke="#4a4a4a" stroke-width="1.5"/>
<rect x="366.65" y="287.77" width="4.7" height="4.7" fill="#d6d6d6" stroke="#4a4a4a" stroke-width="1.5"/>
<rect x="370.95" y="287.77" width="4.7" height="4.7" fill="#d6d6d6" stroke="#4a4a4a" stroke-width="1.5"/>
<rect x="387.35" y="231.17" width="4.7" height="4.7" fill="#d6d6d6" stroke="#4a4a4a" stroke-width="1.5"/>
<rect x="391.65" y="231.17" width="4.7" height="4.7" fill="#d6d6d6" stroke="#4a4a4a" stroke-width="1.5"/>
<rect x="384.35" y="259.47" width="4.7" height="4.7" fill="#d6d6d6" stroke="#4a4a4a" stroke-width="1.5"/>
<rect x="387.95" y="259.47" width="4.7" height="4.7" fill="#d6d6d6" stroke="#4a4a4a" stroke-width="1.5"/>
<rect x="384.35" y="266.55" width="4.7" height="4.7" fill="#d6d6d6" stroke="#4a4a4a" stroke-width="1.5"/>
<rect x="389.85" y="266.55" width="4.7" height="4.7" fill="#d6d6d6" stroke="#4a4a4a" stroke-width="1.5"/>
<rect x="386.75" y="273.62" width="4.7" height="4.7" fill="#d6d6d6" stroke="#4a4a4a" stroke-width="1.5"/>
<rect x="391.65" y="273.62" width="4.7" height="4.7" fill="#d6d6d6" stroke="#4a4a4a" stroke-width="1.5"/>
<rect x="386.15" y="287.77" width="4.7" height="4.7" fill="#d6d6d6" stroke="#4a4a4a" stroke-width="1.5"/>
<rect x="391.65" y="287.77" width="4.7" height="4.7" fill="#d6d6d6" stroke="#4a4a4a" stroke-width="1.5"/>
<rect x="384.35" y="294.85" width="4.7" height="4.7" fill="#d6d6d6" stroke="#4a4a4a" stroke-width="1.5"/>
<rect x="387.95" y="294.85" width="4.7" height="4.7" fill="#d6d6d6" stroke="#4a4a4a" stroke-width="1.5"/>
<rect x="391.65" y="301.92" width="4.7" height="4.7" fill="#d6d6d6" stroke="#4a4a4a" stroke-width="1.5"/>
<rect x="387.95" y="309" width="4.7" height="4.7" fill="#d6d6d6" stroke="#4a4a4a" stroke-width="1.5"/>
<rect x="412.35" y="217.03" width="4.7" height="4.7" fill="#d6d6d6" stroke="#4a4a4a" stroke-width="1.5"/>
<rect x="408.45" y="224.1" width="4.7" height="4.7" fill="#d6d6d6" stroke="#4a4a4a" stroke-width="1.5"/>
<rect x="404.65" y="252.4" width="4.7" height="4.7" fill="#d6d6d6" stroke="#4a4a4a" stroke-width="1.5"/>
<rect x="408.45" y="252.4" width="4.7" height="4.7" fill="#d6d6d6" stroke="#4a4a4a" stroke-width="1.5"/>
<rect x="404.65" y="273.62" width="4.7" height="4.7" fill="#d6d6d6" stroke="#4a4a4a" stroke-width="1.5"/>
<rect x="410.85" y="273.62" width="4.7" height="4.7" fill="#d6d6d6" stroke="#4a4a4a" stroke-width="1.5"/>
<rect x="408.45" y="280.7" width="4.7" height="4.7" fill="#d6d6d6" stroke="#4a4a4a" stroke-width="1.5"/>
<rect x="412.35" y="280.7" width="4.7" height="4.7" fill="#d6d6d6" stroke="#4a4a4a" stroke-width="1.5"/>
<rect x="404.65" y="287.77" width="4.7" height="4.7" fill="#d6d6d6" stroke="#4a4a4a" stroke-width="1.5"/>
<rect x="412.35" y="287.77" width="4.7" height="4.7" fill="#d6d6d6" stroke="#4a4a4a" stroke-width="1.5"/>
<rect x="408.45" y="294.85" width="4.7" height="4.7" fill="#d6d6d6" stroke="#4a4a4a" stroke-width="1.5"/>
<rect x="408.45" y="309" width="4.7" height="4.7" fill="#d6d6d6" stroke="#4a4a4a" stroke-width="1.5"/>
<rect x="429.35" y="209.95" width="4.7" height="4.7" fill="#d6d6d6" stroke="#4a4a4a" stroke-width="1.5"/>
<rect x="425.55" y="252.4" width="4.7" height="4.7" fill="#d6d6d6" stroke="#4a4a4a" stroke-width="1.5"/>
<rect x="429.35" y="259.47" width="4.7" height="4.7" fill="#d6d6d6" stroke="#4a4a4a" stroke-width="1.5"/>
<rect x="427.05" y="266.55" width="4.7" height="4.7" fill="#d6d6d6" stroke="#4a4a4a" stroke-width="1.5"/>
<rect x="431.65" y="266.55" width="4.7" height="4.7" fill="#d6d6d6" stroke="#4a4a4a" stroke-width="1.5"/>
<rect x="427.05" y="273.62" width="4.7" height="4.7" fill="#d6d6d6" stroke="#4a4a4a" stroke-width="1.5"/>
<rect x="431.65" y="273.62" width="4.7" height="4.7" fill="#d6d6d6" stroke="#4a4a4a" stroke-width="1.5"/>
<rect x="427.05" y="280.7" width="4.7" height="4.7" fill="#d6d6d6" stroke="#4a4a4a" stroke-width="1.5"/>
<rect x="431.65" y="280.7" width="4.7" height="4.7" fill="#d6d6d6" stroke="#4a4a4a" stroke-width="1.5"/>
<rect x="425.55" y="287.77" width="4.7" height="4.7" fill="#d6d6d6" stroke="#4a4a4a" stroke-width="1.5"/>
<rect x="429.35" y="287.77" width="4.7" height="4.7" fill="#d6d6d6" stroke="#4a4a4a" stroke-width="1.5"/>
<rect x="433.25" y="287.77" width="4.7" height="4.7" fill="#d6d6d6" stroke="#4a4a4a" stroke-width="1.5"/>
<rect x="425.55" y="294.85" width="4.7" height="4.7" fill="#d6d6d6" stroke="#4a4a4a" stroke-width="1.5"/>
<rect x="429.35" y="301.92" width="4.7" height="4.7" fill="#d6d6d6" stroke="#4a4a4a" stroke-width="1.5"/>
<rect x="433.25" y="301.92" width="4.7" height="4.7" fill="#d6d6d6" stroke="#4a4a4a" stroke-width="1.5"/>
<rect x="449.55" y="202.88" width="4.7" height="4.7" fill="#d6d6d6" stroke="#4a4a4a" stroke-width="1.5"/>
<rect x="445.95" y="217.03" width="4.7" height="4.7" fill="#d6d6d6" stroke="#4a4a4a" stroke-width="1.5"/>
<rect x="449.55" y="224.1" width="4.7" height="4.7" fill="#d6d6d6" stroke="#4a4a4a" stroke-width="1.5"/>
<rect x="453.45" y="231.17" width="4.7" height="4.7" fill="#d6d6d6" stroke="#4a4a4a" stroke-width="1.5"/>
<rect x="449.55" y="238.25" width="4.7" height="4.7" fill="#d6d6d6" stroke="#4a4a4a" stroke-width="1.5"/>
<rect x="449.55" y="252.4" width="4.7" height="4.7" fill="#d6d6d6" stroke="#4a4a4a" stroke-width="1.5"/>
<rect x="449.55" y="266.55" width="4.7" height="4.7" fill="#d6d6d6" stroke="#4a4a4a" stroke-width="1.5"/>
<rect x="453.45" y="266.55" width="4.7" height="4.7" fill="#d6d6d6" stroke="#4a4a4a" stroke-width="1.5"/>
<rect x="445.95" y="273.62" width="4.7" height="4.7" fill="#d6d6d6" stroke="#4a4a4a" stroke-width="1.5"/>
<rect x="453.45" y="273.62" width="4.7" height="4.7" fill="#d6d6d6" stroke="#4a4a4a" stroke-width="1.5"/>
<rect x="449.55" y="280.7" width="4.7" height="4.7" fill="#d6d6d6" stroke="#4a4a4a" stroke-width="1.5"/>
<rect x="449.55" y="309" width="4.7" height="4.7" fill="#d6d6d6" stroke="#4a4a4a" stroke-width="1.5"/>
<rect x="466.85" y="280.7" width="4.7" height="4.7" fill="#d6d6d6" stroke="#4a4a4a" stroke-width="1.5"/>
<rect x="470.65" y="287.77" width="4.7" height="4.7" fill="#d6d6d6" stroke="#4a4a4a" stroke-width="1.5"/>
<rect x="474.25" y="294.85" width="4.7" height="4.7" fill="#d6d6d6" stroke="#4a4a4a" stroke-width="1.5"/>
<rect x="470.65" y="301.92" width="4.7" height="4.7" fill="#d6d6d6" stroke="#4a4a4a" stroke-width="1.5"/>
<rect x="491.45" y="273.62" width="4.7" height="4.7" fill="#d6d6d6" stroke="#4a4a4a" stroke-width="1.5"/>
<rect x="491.45" y="294.85" width="4.7" height="4.7" fill="#d6d6d6" stroke="#4a4a4a" stroke-width="1.5"/>
<rect x="491.45" y="309" width="4.7" height="4.7" fill="#d6d6d6" stroke="#4a4a4a" stroke-width="1.5"/>
<rect x="512.15" y="301.92" width="4.7" height="4.7" fill="#d6d6d6" stroke="#4a4a4a" stroke-width="1.5"/>
<rect x="532.95" y="287.77" width="4.7" height="4.7" fill="#d6d6d6" stroke="#4a4a4a" stroke-width="1.5"/>
<rect x="553.25" y="287.77" width="4.7" height="4.7" fill="#d6d6d6" stroke="#4a4a4a" stroke-width="1.5"/>
<rect x="573.65" y="309" width="4.7" height="4.7" fill="#d6d6d6" stroke="#4a4a4a" stroke-width="1.5"/>
<rect x="598.05" y="294.85" width="4.7" height="4.7" fill="#d6d6d6" stroke="#4a4a4a" stroke-width="1.5"/>
<rect x="593.95" y="301.92" width="4.7" height="4.7" fill="#d6d6d6" stroke="#4a4a4a" stroke-width="1.5"/>
<rect x="614.95" y="294.85" width="4.7" height="4.7" fill="#d6d6d6" stroke="#4a4a4a" stroke-width="1.5"/>
<line x1="197.7" y1="297.4" x2="210.9" y2="297.4" stroke="#0a0aa8" stroke-width="2.8" stroke-linecap="round"/>
<line x1="218.35" y1="297.4" x2="231.55" y2="297.4" stroke="#0a0aa8" stroke-width="2.8" stroke-linecap="round"/>
<line x1="239" y1="240.8" x2="252.2" y2="240.8" stroke="#0a0aa8" stroke-width="2.8" stroke-linecap="round"/>
<line x1="259.65" y1="254.95" x2="272.85" y2="254.95" stroke="#0a0aa8" stroke-width="2.8" stroke-linecap="round"/>
<line x1="280.3" y1="219.57" x2="293.5" y2="219.57" stroke="#0a0aa8" stroke-width="2.8" stroke-linecap="round"/>
<line x1="300.95" y1="262.02" x2="314.15" y2="262.02" stroke="#0a0aa8" stroke-width="2.8" stroke-linecap="round"/>
<line x1="321.6" y1="251.41" x2="334.8" y2="251.41" stroke="#0a0aa8" stroke-width="2.8" stroke-linecap="round"/>
<line x1="342.25" y1="240.8" x2="355.45" y2="240.8" stroke="#0a0aa8" stroke-width="2.8" stroke-linecap="round"/>
<line x1="362.9" y1="276.18" x2="376.1" y2="276.18" stroke="#0a0aa8" stroke-width="2.8" stroke-linecap="round"/>
<line x1="383.55" y1="276.18" x2="396.75" y2="276.18" stroke="#0a0aa8" stroke-width="2.8" stroke-linecap="round"/>
<line x1="404.2" y1="279.71" x2="417.4" y2="279.71" stroke="#0a0aa8" stroke-width="2.8" stroke-linecap="round"/>
<line x1="424.85" y1="276.18" x2="438.05" y2="276.18" stroke="#0a0aa8" stroke-width="2.8" stroke-linecap="round"/>
<line x1="445.5" y1="262.02" x2="458.7" y2="262.02" stroke="#0a0aa8" stroke-width="2.8" stroke-linecap="round"/>
<line x1="466.15" y1="294.22" x2="479.35" y2="294.22" stroke="#0a0aa8" stroke-width="2.8" stroke-linecap="round"/>
<line x1="486.8" y1="297.4" x2="500" y2="297.4" stroke="#0a0aa8" stroke-width="2.8" stroke-linecap="round"/>
<line x1="507.45" y1="304.47" x2="520.65" y2="304.47" stroke="#0a0aa8" stroke-width="2.8" stroke-linecap="round"/>
<line x1="528.1" y1="290.32" x2="541.3" y2="290.32" stroke="#0a0aa8" stroke-width="2.8" stroke-linecap="round"/>
<line x1="548.75" y1="290.32" x2="561.95" y2="290.32" stroke="#0a0aa8" stroke-width="2.8" stroke-linecap="round"/>
<line x1="569.4" y1="311.55" x2="582.6" y2="311.55" stroke="#0a0aa8" stroke-width="2.8" stroke-linecap="round"/>
<line x1="590.05" y1="300.94" x2="603.25" y2="300.94" stroke="#0a0aa8" stroke-width="2.8" stroke-linecap="round"/>
<line x1="610.7" y1="297.4" x2="623.9" y2="297.4" stroke="#0a0aa8" stroke-width="2.8" stroke-linecap="round"/>
<line x1="62.2" y1="505.5" x2="62.2" y2="603.2" stroke="#000" stroke-width="1.5" stroke-linecap="butt"/>
<line x1="60" y1="603.2" x2="65.6" y2="603.2" stroke="#000" stroke-width="1.5" stroke-linecap="butt"/>
<line x1="58.1" y1="506.3" x2="62.2" y2="506.3" stroke="#000" stroke-width="1.5" stroke-linecap="butt"/>
<text x="55.6" y="513.2" font-family='"Liberation Sans", sans-serif' font-size="19.4" fill="#000" text-anchor="end" >12</text>
<line x1="58.1" y1="533.9" x2="62.2" y2="533.9" stroke="#000" stroke-width="1.5" stroke-linecap="butt"/>
<text x="55.6" y="540.8" font-family='"Liberation Sans", sans-serif' font-size="19.4" fill="#000" text-anchor="end" >10</text>
<line x1="58.1" y1="561.5" x2="62.2" y2="561.5" stroke="#000" stroke-width="1.5" stroke-linecap="butt"/>
<text x="55.6" y="568.4" font-family='"Liberation Sans", sans-serif' font-size="19.4" fill="#000" text-anchor="end" >8</text>
<line x1="58.1" y1="589.1" x2="62.2" y2="589.1" stroke="#000" stroke-width="1.5" stroke-linecap="butt"/>
<text x="55.6" y="596" font-family='"Liberation Sans", sans-serif' font-size="19.4" fill="#000" text-anchor="end" >6</text>
<line x1="62.2" y1="613.6" x2="62.2" y2="845.6" stroke="#000" stroke-width="1.5" stroke-linecap="butt"/>
<line x1="58.1" y1="613.6" x2="65.6" y2="613.6" stroke="#000" stroke-width="1.5" stroke-linecap="butt"/>
<line x1="58.1" y1="615" x2="62.2" y2="615" stroke="#000" stroke-width="1.5" stroke-linecap="butt"/>
<text x="55.6" y="621.9" font-family='"Liberation Sans", sans-serif' font-size="19.4" fill="#000" text-anchor="end" >4</text>
<line x1="58.1" y1="672.65" x2="62.2" y2="672.65" stroke="#000" stroke-width="1.5" stroke-linecap="butt"/>
<text x="55.6" y="679.55" font-family='"Liberation Sans", sans-serif' font-size="19.4" fill="#000" text-anchor="end" >3</text>
<line x1="58.1" y1="730.3" x2="62.2" y2="730.3" stroke="#000" stroke-width="1.5" stroke-linecap="butt"/>
<text x="55.6" y="737.2" font-family='"Liberation Sans", sans-serif' font-size="19.4" fill="#000" text-anchor="end" >2</text>
<line x1="58.1" y1="787.95" x2="62.2" y2="787.95" stroke="#000" stroke-width="1.5" stroke-linecap="butt"/>
<text x="55.6" y="794.85" font-family='"Liberation Sans", sans-serif' font-size="19.4" fill="#000" text-anchor="end" >1</text>
<text x="55.6" y="852.5" font-family='"Liberation Sans", sans-serif' font-size="19.4" fill="#000" text-anchor="end" >0</text>
<line x1="57.9" y1="845.6" x2="299.2" y2="845.6" stroke="#000" stroke-width="1.6" stroke-linecap="butt"/>
<line x1="86" y1="845.6" x2="86" y2="850.2" stroke="#000" stroke-width="1.5" stroke-linecap="butt"/>
<line x1="133" y1="845.6" x2="133" y2="850.2" stroke="#000" stroke-width="1.5" stroke-linecap="butt"/>
<line x1="180.2" y1="845.6" x2="180.2" y2="850.2" stroke="#000" stroke-width="1.5" stroke-linecap="butt"/>
<line x1="227.8" y1="845.6" x2="227.8" y2="850.2" stroke="#000" stroke-width="1.5" stroke-linecap="butt"/>
<line x1="274.2" y1="845.6" x2="274.2" y2="850.2" stroke="#000" stroke-width="1.5" stroke-linecap="butt"/>
<text x="62.6" y="867.7" font-family='"Liberation Sans", sans-serif' font-size="14.6" fill="#000" textLength="37.4" lengthAdjust="spacingAndGlyphs" >N&#228;ive</text>
<text x="111.8" y="867.7" font-family='"Liberation Sans", sans-serif' font-size="14.6" fill="#000" textLength="49.4" lengthAdjust="spacingAndGlyphs" >Primary</text>
<text x="111.2" y="886.4" font-family='"Liberation Sans", sans-serif' font-size="14.6" fill="#000" textLength="50.2" lengthAdjust="spacingAndGlyphs" >effector</text>
<text x="206" y="867.7" font-family='"Liberation Sans", sans-serif' font-size="14.6" fill="#000" textLength="27.2" lengthAdjust="spacingAndGlyphs" >Late</text>
<text x="194.9" y="886.4" font-family='"Liberation Sans", sans-serif' font-size="14.6" fill="#000" textLength="53.4" lengthAdjust="spacingAndGlyphs" >memory</text>
<text x="251.1" y="867.7" font-family='"Liberation Sans", sans-serif' font-size="14.6" fill="#000" textLength="66.6" lengthAdjust="spacingAndGlyphs" >Secondary</text>
<text x="259.4" y="886.4" font-family='"Liberation Sans", sans-serif' font-size="14.6" fill="#000" textLength="51.2" lengthAdjust="spacingAndGlyphs" >effector</text>
<text transform="translate(17.6,782.9) rotate(-90)" font-family='"Liberation Sans", sans-serif' font-size="19.4" textLength="215.5" lengthAdjust="spacingAndGlyphs">Activated CD4<tspan font-size="11.5" dy="-7">+</tspan><tspan dy="7"> T cells (%)</tspan></text>
<path d="M86.2 495.5L86.2 492.1Q86.2 489.6 88.7 489.6L273.7 489.6Q276.2 489.6 276.2 492.1L276.2 495.5M132.3 489.6Q134.8 489.6 134.8 492.1L134.8 495.5M137.3 489.6Q134.8 489.6 134.8 492.1" stroke="#4a4a4a" stroke-width="1.3" fill="none"/>
<path d="M86.2 515.5L86.2 511.9Q86.2 509.4 88.7 509.4L273.7 509.4Q276.2 509.4 276.2 511.9L276.2 515.5M225.8 509.4Q228.3 509.4 228.3 511.9L228.3 515.5M230.8 509.4Q228.3 509.4 228.3 511.9" stroke="#4a4a4a" stroke-width="1.3" fill="none"/>
<path d="M99.4 477.4L99.4 484.2M96.46 479.1L102.34 482.5M102.34 479.1L96.46 482.5" stroke="#000" stroke-width="1.35" stroke-linecap="round" fill="none"/>
<path d="M108.9 477.4L108.9 484.2M105.96 479.1L111.84 482.5M111.84 479.1L105.96 482.5" stroke="#000" stroke-width="1.35" stroke-linecap="round" fill="none"/>
<path d="M118.4 477.4L118.4 484.2M115.46 479.1L121.34 482.5M121.34 479.1L115.46 482.5" stroke="#000" stroke-width="1.35" stroke-linecap="round" fill="none"/>
<path d="M200.1 477.8L200.1 484.6M197.16 479.5L203.04 482.9M203.04 479.5L197.16 482.9" stroke="#000" stroke-width="1.35" stroke-linecap="round" fill="none"/>
<path d="M209.5 477.8L209.5 484.6M206.56 479.5L212.44 482.9M212.44 479.5L206.56 482.9" stroke="#000" stroke-width="1.35" stroke-linecap="round" fill="none"/>
<path d="M251 498.8L251 505.6M248.06 500.5L253.94 503.9M253.94 500.5L248.06 503.9" stroke="#000" stroke-width="1.35" stroke-linecap="round" fill="none"/>
<text x="156.2" y="505.7" font-family='"Liberation Sans", sans-serif' font-size="15.4" fill="#000" text-anchor="middle" textLength="12.6" lengthAdjust="spacingAndGlyphs" >ns</text>
<circle cx="85.8" cy="753.36" r="2.4" fill="#fff" stroke="#3434bc" stroke-width="1.3"/>
<circle cx="78.8" cy="759.12" r="2.4" fill="#fff" stroke="#3434bc" stroke-width="1.3"/>
<circle cx="85.8" cy="764.89" r="2.4" fill="#fff" stroke="#3434bc" stroke-width="1.3"/>
<circle cx="85.8" cy="793.72" r="2.4" fill="#fff" stroke="#3434bc" stroke-width="1.3"/>
<circle cx="92.5" cy="793.72" r="2.4" fill="#fff" stroke="#3434bc" stroke-width="1.3"/>
<circle cx="75.6" cy="799.48" r="2.4" fill="#fff" stroke="#3434bc" stroke-width="1.3"/>
<circle cx="83.9" cy="799.48" r="2.4" fill="#fff" stroke="#3434bc" stroke-width="1.3"/>
<circle cx="96" cy="799.48" r="2.4" fill="#fff" stroke="#3434bc" stroke-width="1.3"/>
<circle cx="72.2" cy="805.25" r="2.4" fill="#fff" stroke="#3434bc" stroke-width="1.3"/>
<circle cx="79.2" cy="805.25" r="2.4" fill="#fff" stroke="#3434bc" stroke-width="1.3"/>
<circle cx="81.92" cy="805.25" r="2.4" fill="#fff" stroke="#3434bc" stroke-width="1.3"/>
<circle cx="84.64" cy="805.25" r="2.4" fill="#fff" stroke="#3434bc" stroke-width="1.3"/>
<circle cx="87.36" cy="805.25" r="2.4" fill="#fff" stroke="#3434bc" stroke-width="1.3"/>
<circle cx="90.08" cy="805.25" r="2.4" fill="#fff" stroke="#3434bc" stroke-width="1.3"/>
<circle cx="92.8" cy="805.25" r="2.4" fill="#fff" stroke="#3434bc" stroke-width="1.3"/>
<circle cx="99.5" cy="805.25" r="2.4" fill="#fff" stroke="#3434bc" stroke-width="1.3"/>
<circle cx="79.2" cy="811.01" r="2.4" fill="#fff" stroke="#3434bc" stroke-width="1.3"/>
<circle cx="85.8" cy="811.01" r="2.4" fill="#fff" stroke="#3434bc" stroke-width="1.3"/>
<circle cx="92.5" cy="811.01" r="2.4" fill="#fff" stroke="#3434bc" stroke-width="1.3"/>
<circle cx="72.2" cy="816.77" r="2.4" fill="#fff" stroke="#3434bc" stroke-width="1.3"/>
<circle cx="77.5" cy="816.77" r="2.4" fill="#fff" stroke="#3434bc" stroke-width="1.3"/>
<circle cx="78.61" cy="816.77" r="2.4" fill="#fff" stroke="#3434bc" stroke-width="1.3"/>
<circle cx="79.73" cy="816.77" r="2.4" fill="#fff" stroke="#3434bc" stroke-width="1.3"/>
<circle cx="80.84" cy="816.77" r="2.4" fill="#fff" stroke="#3434bc" stroke-width="1.3"/>
<circle cx="81.95" cy="816.77" r="2.4" fill="#fff" stroke="#3434bc" stroke-width="1.3"/>
<circle cx="83.07" cy="816.77" r="2.4" fill="#fff" stroke="#3434bc" stroke-width="1.3"/>
<circle cx="84.18" cy="816.77" r="2.4" fill="#fff" stroke="#3434bc" stroke-width="1.3"/>
<circle cx="85.29" cy="816.77" r="2.4" fill="#fff" stroke="#3434bc" stroke-width="1.3"/>
<circle cx="86.41" cy="816.77" r="2.4" fill="#fff" stroke="#3434bc" stroke-width="1.3"/>
<circle cx="87.52" cy="816.77" r="2.4" fill="#fff" stroke="#3434bc" stroke-width="1.3"/>
<circle cx="88.63" cy="816.77" r="2.4" fill="#fff" stroke="#3434bc" stroke-width="1.3"/>
<circle cx="89.75" cy="816.77" r="2.4" fill="#fff" stroke="#3434bc" stroke-width="1.3"/>
<circle cx="90.86" cy="816.77" r="2.4" fill="#fff" stroke="#3434bc" stroke-width="1.3"/>
<circle cx="91.97" cy="816.77" r="2.4" fill="#fff" stroke="#3434bc" stroke-width="1.3"/>
<circle cx="93.09" cy="816.77" r="2.4" fill="#fff" stroke="#3434bc" stroke-width="1.3"/>
<circle cx="94.2" cy="816.77" r="2.4" fill="#fff" stroke="#3434bc" stroke-width="1.3"/>
<circle cx="99.5" cy="816.77" r="2.4" fill="#fff" stroke="#3434bc" stroke-width="1.3"/>
<circle cx="72.2" cy="822.54" r="2.4" fill="#fff" stroke="#3434bc" stroke-width="1.3"/>
<circle cx="79.2" cy="822.54" r="2.4" fill="#fff" stroke="#3434bc" stroke-width="1.3"/>
<circle cx="85.8" cy="822.54" r="2.4" fill="#fff" stroke="#3434bc" stroke-width="1.3"/>
<circle cx="92.5" cy="822.54" r="2.4" fill="#fff" stroke="#3434bc" stroke-width="1.3"/>
<circle cx="99.5" cy="822.54" r="2.4" fill="#fff" stroke="#3434bc" stroke-width="1.3"/>
<circle cx="72.2" cy="828.31" r="2.4" fill="#fff" stroke="#3434bc" stroke-width="1.3"/>
<circle cx="74" cy="828.31" r="2.4" fill="#fff" stroke="#3434bc" stroke-width="1.3"/>
<circle cx="79.2" cy="828.31" r="2.4" fill="#fff" stroke="#3434bc" stroke-width="1.3"/>
<circle cx="81" cy="828.31" r="2.4" fill="#fff" stroke="#3434bc" stroke-width="1.3"/>
<circle cx="85.8" cy="828.31" r="2.4" fill="#fff" stroke="#3434bc" stroke-width="1.3"/>
<circle cx="87.6" cy="828.31" r="2.4" fill="#fff" stroke="#3434bc" stroke-width="1.3"/>
<circle cx="92.5" cy="828.31" r="2.4" fill="#fff" stroke="#3434bc" stroke-width="1.3"/>
<circle cx="94.3" cy="828.31" r="2.4" fill="#fff" stroke="#3434bc" stroke-width="1.3"/>
<circle cx="99.5" cy="828.31" r="2.4" fill="#fff" stroke="#3434bc" stroke-width="1.3"/>
<circle cx="72.2" cy="834.07" r="2.4" fill="#fff" stroke="#3434bc" stroke-width="1.3"/>
<circle cx="78.2" cy="834.07" r="2.4" fill="#fff" stroke="#3434bc" stroke-width="1.3"/>
<circle cx="79.7" cy="834.07" r="2.4" fill="#fff" stroke="#3434bc" stroke-width="1.3"/>
<circle cx="84.8" cy="834.07" r="2.4" fill="#fff" stroke="#3434bc" stroke-width="1.3"/>
<circle cx="86.3" cy="834.07" r="2.4" fill="#fff" stroke="#3434bc" stroke-width="1.3"/>
<circle cx="91.5" cy="834.07" r="2.4" fill="#fff" stroke="#3434bc" stroke-width="1.3"/>
<circle cx="93" cy="834.07" r="2.4" fill="#fff" stroke="#3434bc" stroke-width="1.3"/>
<circle cx="99.5" cy="834.07" r="2.4" fill="#fff" stroke="#3434bc" stroke-width="1.3"/>
<circle cx="72.2" cy="839.84" r="2.4" fill="#fff" stroke="#3434bc" stroke-width="1.3"/>
<circle cx="77.5" cy="839.84" r="2.4" fill="#fff" stroke="#3434bc" stroke-width="1.3"/>
<circle cx="78.61" cy="839.84" r="2.4" fill="#fff" stroke="#3434bc" stroke-width="1.3"/>
<circle cx="79.73" cy="839.84" r="2.4" fill="#fff" stroke="#3434bc" stroke-width="1.3"/>
<circle cx="80.84" cy="839.84" r="2.4" fill="#fff" stroke="#3434bc" stroke-width="1.3"/>
<circle cx="81.95" cy="839.84" r="2.4" fill="#fff" stroke="#3434bc" stroke-width="1.3"/>
<circle cx="83.07" cy="839.84" r="2.4" fill="#fff" stroke="#3434bc" stroke-width="1.3"/>
<circle cx="84.18" cy="839.84" r="2.4" fill="#fff" stroke="#3434bc" stroke-width="1.3"/>
<circle cx="85.29" cy="839.84" r="2.4" fill="#fff" stroke="#3434bc" stroke-width="1.3"/>
<circle cx="86.41" cy="839.84" r="2.4" fill="#fff" stroke="#3434bc" stroke-width="1.3"/>
<circle cx="87.52" cy="839.84" r="2.4" fill="#fff" stroke="#3434bc" stroke-width="1.3"/>
<circle cx="88.63" cy="839.84" r="2.4" fill="#fff" stroke="#3434bc" stroke-width="1.3"/>
<circle cx="89.75" cy="839.84" r="2.4" fill="#fff" stroke="#3434bc" stroke-width="1.3"/>
<circle cx="90.86" cy="839.84" r="2.4" fill="#fff" stroke="#3434bc" stroke-width="1.3"/>
<circle cx="91.97" cy="839.84" r="2.4" fill="#fff" stroke="#3434bc" stroke-width="1.3"/>
<circle cx="93.09" cy="839.84" r="2.4" fill="#fff" stroke="#3434bc" stroke-width="1.3"/>
<circle cx="94.2" cy="839.84" r="2.4" fill="#fff" stroke="#3434bc" stroke-width="1.3"/>
<circle cx="99.5" cy="839.84" r="2.4" fill="#fff" stroke="#3434bc" stroke-width="1.3"/>
<circle cx="79.5" cy="816.77" r="0.9" fill="#fff" stroke="none" stroke-width="0"/>
<circle cx="85.8" cy="816.77" r="0.9" fill="#fff" stroke="none" stroke-width="0"/>
<circle cx="92.2" cy="816.77" r="0.9" fill="#fff" stroke="none" stroke-width="0"/>
<circle cx="79.5" cy="839.84" r="0.9" fill="#fff" stroke="none" stroke-width="0"/>
<circle cx="86.5" cy="839.84" r="0.9" fill="#fff" stroke="none" stroke-width="0"/>
<circle cx="92.2" cy="839.84" r="0.9" fill="#fff" stroke="none" stroke-width="0"/>
<circle cx="133.1" cy="649.59" r="2.4" fill="#6b6bee" stroke="#16164e" stroke-width="1.2"/>
<circle cx="126.4" cy="655.36" r="2.4" fill="#6b6bee" stroke="#16164e" stroke-width="1.2"/>
<circle cx="139.9" cy="655.36" r="2.4" fill="#6b6bee" stroke="#16164e" stroke-width="1.2"/>
<circle cx="133.1" cy="661.12" r="2.4" fill="#6b6bee" stroke="#16164e" stroke-width="1.2"/>
<circle cx="133.1" cy="684.18" r="2.4" fill="#6b6bee" stroke="#16164e" stroke-width="1.2"/>
<circle cx="139.9" cy="689.95" r="2.4" fill="#6b6bee" stroke="#16164e" stroke-width="1.2"/>
<circle cx="133.1" cy="695.71" r="2.4" fill="#6b6bee" stroke="#16164e" stroke-width="1.2"/>
<circle cx="126.4" cy="713" r="2.4" fill="#6b6bee" stroke="#16164e" stroke-width="1.2"/>
<circle cx="133" cy="713" r="2.4" fill="#6b6bee" stroke="#16164e" stroke-width="1.2"/>
<circle cx="139.9" cy="713" r="2.4" fill="#6b6bee" stroke="#16164e" stroke-width="1.2"/>
<circle cx="126.4" cy="718.77" r="2.4" fill="#6b6bee" stroke="#16164e" stroke-width="1.2"/>
<circle cx="139.9" cy="718.77" r="2.4" fill="#6b6bee" stroke="#16164e" stroke-width="1.2"/>
<circle cx="146.5" cy="718.77" r="2.4" fill="#6b6bee" stroke="#16164e" stroke-width="1.2"/>
<circle cx="133" cy="724.54" r="2.4" fill="#6b6bee" stroke="#16164e" stroke-width="1.2"/>
<circle cx="126.3" cy="736.07" r="2.4" fill="#6b6bee" stroke="#16164e" stroke-width="1.2"/>
<circle cx="133" cy="736.07" r="2.4" fill="#6b6bee" stroke="#16164e" stroke-width="1.2"/>
<circle cx="126.3" cy="741.83" r="2.4" fill="#6b6bee" stroke="#16164e" stroke-width="1.2"/>
<circle cx="133" cy="747.6" r="2.4" fill="#6b6bee" stroke="#16164e" stroke-width="1.2"/>
<circle cx="139.7" cy="747.6" r="2.4" fill="#6b6bee" stroke="#16164e" stroke-width="1.2"/>
<circle cx="122.8" cy="753.36" r="2.4" fill="#6b6bee" stroke="#16164e" stroke-width="1.2"/>
<circle cx="131.7" cy="753.36" r="2.4" fill="#6b6bee" stroke="#16164e" stroke-width="1.2"/>
<circle cx="136.1" cy="753.36" r="2.4" fill="#6b6bee" stroke="#16164e" stroke-width="1.2"/>
<circle cx="143.2" cy="753.36" r="2.4" fill="#6b6bee" stroke="#16164e" stroke-width="1.2"/>
<circle cx="119.2" cy="759.12" r="2.4" fill="#6b6bee" stroke="#16164e" stroke-width="1.2"/>
<circle cx="126.3" cy="759.12" r="2.4" fill="#6b6bee" stroke="#16164e" stroke-width="1.2"/>
<circle cx="129.5" cy="759.12" r="2.4" fill="#6b6bee" stroke="#16164e" stroke-width="1.2"/>
<circle cx="139.7" cy="759.12" r="2.4" fill="#6b6bee" stroke="#16164e" stroke-width="1.2"/>
<circle cx="146.6" cy="759.12" r="2.4" fill="#6b6bee" stroke="#16164e" stroke-width="1.2"/>
<circle cx="123.2" cy="764.89" r="2.4" fill="#6b6bee" stroke="#16164e" stroke-width="1.2"/>
<circle cx="131.7" cy="764.89" r="2.4" fill="#6b6bee" stroke="#16164e" stroke-width="1.2"/>
<circle cx="135.2" cy="764.89" r="2.4" fill="#6b6bee" stroke="#16164e" stroke-width="1.2"/>
<circle cx="141" cy="764.89" r="2.4" fill="#6b6bee" stroke="#16164e" stroke-width="1.2"/>
<circle cx="119.2" cy="770.65" r="2.4" fill="#6b6bee" stroke="#16164e" stroke-width="1.2"/>
<circle cx="126.3" cy="770.65" r="2.4" fill="#6b6bee" stroke="#16164e" stroke-width="1.2"/>
<circle cx="130.8" cy="770.65" r="2.4" fill="#6b6bee" stroke="#16164e" stroke-width="1.2"/>
<circle cx="135.2" cy="770.65" r="2.4" fill="#6b6bee" stroke="#16164e" stroke-width="1.2"/>
<circle cx="139.7" cy="770.65" r="2.4" fill="#6b6bee" stroke="#16164e" stroke-width="1.2"/>
<circle cx="143.2" cy="770.65" r="2.4" fill="#6b6bee" stroke="#16164e" stroke-width="1.2"/>
<circle cx="146.6" cy="770.65" r="2.4" fill="#6b6bee" stroke="#16164e" stroke-width="1.2"/>
<circle cx="122.8" cy="776.42" r="2.4" fill="#6b6bee" stroke="#16164e" stroke-width="1.2"/>
<circle cx="129.9" cy="776.42" r="2.4" fill="#6b6bee" stroke="#16164e" stroke-width="1.2"/>
<circle cx="135.2" cy="776.42" r="2.4" fill="#6b6bee" stroke="#16164e" stroke-width="1.2"/>
<circle cx="143.2" cy="776.42" r="2.4" fill="#6b6bee" stroke="#16164e" stroke-width="1.2"/>
<circle cx="146.8" cy="776.42" r="2.4" fill="#6b6bee" stroke="#16164e" stroke-width="1.2"/>
<circle cx="119.2" cy="782.19" r="2.4" fill="#6b6bee" stroke="#16164e" stroke-width="1.2"/>
<circle cx="126.3" cy="782.19" r="2.4" fill="#6b6bee" stroke="#16164e" stroke-width="1.2"/>
<circle cx="133" cy="782.19" r="2.4" fill="#6b6bee" stroke="#16164e" stroke-width="1.2"/>
<circle cx="139.7" cy="782.19" r="2.4" fill="#6b6bee" stroke="#16164e" stroke-width="1.2"/>
<circle cx="123" cy="787.95" r="2.4" fill="#6b6bee" stroke="#16164e" stroke-width="1.2"/>
<circle cx="126.4" cy="787.95" r="2.4" fill="#6b6bee" stroke="#16164e" stroke-width="1.2"/>
<circle cx="131.3" cy="787.95" r="2.4" fill="#6b6bee" stroke="#16164e" stroke-width="1.2"/>
<circle cx="134.7" cy="787.95" r="2.4" fill="#6b6bee" stroke="#16164e" stroke-width="1.2"/>
<circle cx="139.7" cy="787.95" r="2.4" fill="#6b6bee" stroke="#16164e" stroke-width="1.2"/>
<circle cx="143.1" cy="787.95" r="2.4" fill="#6b6bee" stroke="#16164e" stroke-width="1.2"/>
<circle cx="119.2" cy="793.72" r="2.4" fill="#6b6bee" stroke="#16164e" stroke-width="1.2"/>
<circle cx="122.6" cy="793.72" r="2.4" fill="#6b6bee" stroke="#16164e" stroke-width="1.2"/>
<circle cx="126.3" cy="793.72" r="2.4" fill="#6b6bee" stroke="#16164e" stroke-width="1.2"/>
<circle cx="129.7" cy="793.72" r="2.4" fill="#6b6bee" stroke="#16164e" stroke-width="1.2"/>
<circle cx="133" cy="793.72" r="2.4" fill="#6b6bee" stroke="#16164e" stroke-width="1.2"/>
<circle cx="136.4" cy="793.72" r="2.4" fill="#6b6bee" stroke="#16164e" stroke-width="1.2"/>
<circle cx="139.7" cy="793.72" r="2.4" fill="#6b6bee" stroke="#16164e" stroke-width="1.2"/>
<circle cx="143.1" cy="793.72" r="2.4" fill="#6b6bee" stroke="#16164e" stroke-width="1.2"/>
<circle cx="146.6" cy="793.72" r="2.4" fill="#6b6bee" stroke="#16164e" stroke-width="1.2"/>
<circle cx="119.2" cy="799.48" r="2.4" fill="#6b6bee" stroke="#16164e" stroke-width="1.2"/>
<circle cx="122.6" cy="799.48" r="2.4" fill="#6b6bee" stroke="#16164e" stroke-width="1.2"/>
<circle cx="126.3" cy="799.48" r="2.4" fill="#6b6bee" stroke="#16164e" stroke-width="1.2"/>
<circle cx="129.7" cy="799.48" r="2.4" fill="#6b6bee" stroke="#16164e" stroke-width="1.2"/>
<circle cx="133" cy="799.48" r="2.4" fill="#6b6bee" stroke="#16164e" stroke-width="1.2"/>
<circle cx="136.4" cy="799.48" r="2.4" fill="#6b6bee" stroke="#16164e" stroke-width="1.2"/>
<circle cx="139.7" cy="799.48" r="2.4" fill="#6b6bee" stroke="#16164e" stroke-width="1.2"/>
<circle cx="143.1" cy="799.48" r="2.4" fill="#6b6bee" stroke="#16164e" stroke-width="1.2"/>
<circle cx="146.6" cy="799.48" r="2.4" fill="#6b6bee" stroke="#16164e" stroke-width="1.2"/>
<circle cx="119.2" cy="805.25" r="2.4" fill="#6b6bee" stroke="#16164e" stroke-width="1.2"/>
<circle cx="123.5" cy="805.25" r="2.4" fill="#6b6bee" stroke="#16164e" stroke-width="1.2"/>
<circle cx="126.3" cy="805.25" r="2.4" fill="#6b6bee" stroke="#16164e" stroke-width="1.2"/>
<circle cx="129.7" cy="805.25" r="2.4" fill="#6b6bee" stroke="#16164e" stroke-width="1.2"/>
<circle cx="133" cy="805.25" r="2.4" fill="#6b6bee" stroke="#16164e" stroke-width="1.2"/>
<circle cx="136.4" cy="805.25" r="2.4" fill="#6b6bee" stroke="#16164e" stroke-width="1.2"/>
<circle cx="139.7" cy="805.25" r="2.4" fill="#6b6bee" stroke="#16164e" stroke-width="1.2"/>
<circle cx="143.1" cy="805.25" r="2.4" fill="#6b6bee" stroke="#16164e" stroke-width="1.2"/>
<circle cx="146.6" cy="805.25" r="2.4" fill="#6b6bee" stroke="#16164e" stroke-width="1.2"/>
<circle cx="119.2" cy="811.01" r="2.4" fill="#6b6bee" stroke="#16164e" stroke-width="1.2"/>
<circle cx="126" cy="811.01" r="2.4" fill="#6b6bee" stroke="#16164e" stroke-width="1.2"/>
<circle cx="133" cy="811.01" r="2.4" fill="#6b6bee" stroke="#16164e" stroke-width="1.2"/>
<circle cx="139.7" cy="811.01" r="2.4" fill="#6b6bee" stroke="#16164e" stroke-width="1.2"/>
<circle cx="146.3" cy="811.01" r="2.4" fill="#6b6bee" stroke="#16164e" stroke-width="1.2"/>
<circle cx="119.2" cy="816.77" r="2.4" fill="#6b6bee" stroke="#16164e" stroke-width="1.2"/>
<circle cx="122.6" cy="816.77" r="2.4" fill="#6b6bee" stroke="#16164e" stroke-width="1.2"/>
<circle cx="126.3" cy="816.77" r="2.4" fill="#6b6bee" stroke="#16164e" stroke-width="1.2"/>
<circle cx="129.7" cy="816.77" r="2.4" fill="#6b6bee" stroke="#16164e" stroke-width="1.2"/>
<circle cx="133" cy="816.77" r="2.4" fill="#6b6bee" stroke="#16164e" stroke-width="1.2"/>
<circle cx="136.4" cy="816.77" r="2.4" fill="#6b6bee" stroke="#16164e" stroke-width="1.2"/>
<circle cx="139.7" cy="816.77" r="2.4" fill="#6b6bee" stroke="#16164e" stroke-width="1.2"/>
<circle cx="143.1" cy="816.77" r="2.4" fill="#6b6bee" stroke="#16164e" stroke-width="1.2"/>
<circle cx="146.6" cy="816.77" r="2.4" fill="#6b6bee" stroke="#16164e" stroke-width="1.2"/>
<circle cx="123" cy="822.54" r="2.4" fill="#6b6bee" stroke="#16164e" stroke-width="1.2"/>
<circle cx="126.3" cy="822.54" r="2.4" fill="#6b6bee" stroke="#16164e" stroke-width="1.2"/>
<circle cx="130" cy="822.54" r="2.4" fill="#6b6bee" stroke="#16164e" stroke-width="1.2"/>
<circle cx="133" cy="822.54" r="2.4" fill="#6b6bee" stroke="#16164e" stroke-width="1.2"/>
<circle cx="136.3" cy="822.54" r="2.4" fill="#6b6bee" stroke="#16164e" stroke-width="1.2"/>
<circle cx="141" cy="822.54" r="2.4" fill="#6b6bee" stroke="#16164e" stroke-width="1.2"/>
<circle cx="144" cy="822.54" r="2.4" fill="#6b6bee" stroke="#16164e" stroke-width="1.2"/>
<circle cx="119.2" cy="828.31" r="2.4" fill="#6b6bee" stroke="#16164e" stroke-width="1.2"/>
<circle cx="125.5" cy="828.31" r="2.4" fill="#6b6bee" stroke="#16164e" stroke-width="1.2"/>
<circle cx="129" cy="828.31" r="2.4" fill="#6b6bee" stroke="#16164e" stroke-width="1.2"/>
<circle cx="132.5" cy="828.31" r="2.4" fill="#6b6bee" stroke="#16164e" stroke-width="1.2"/>
<circle cx="136" cy="828.31" r="2.4" fill="#6b6bee" stroke="#16164e" stroke-width="1.2"/>
<circle cx="139.5" cy="828.31" r="2.4" fill="#6b6bee" stroke="#16164e" stroke-width="1.2"/>
<circle cx="146.6" cy="828.31" r="2.4" fill="#6b6bee" stroke="#16164e" stroke-width="1.2"/>
<circle cx="119.2" cy="834.07" r="2.4" fill="#6b6bee" stroke="#16164e" stroke-width="1.2"/>
<circle cx="122.6" cy="834.07" r="2.4" fill="#6b6bee" stroke="#16164e" stroke-width="1.2"/>
<circle cx="126.3" cy="834.07" r="2.4" fill="#6b6bee" stroke="#16164e" stroke-width="1.2"/>
<circle cx="129.7" cy="834.07" r="2.4" fill="#6b6bee" stroke="#16164e" stroke-width="1.2"/>
<circle cx="136.4" cy="834.07" r="2.4" fill="#6b6bee" stroke="#16164e" stroke-width="1.2"/>
<circle cx="139.7" cy="834.07" r="2.4" fill="#6b6bee" stroke="#16164e" stroke-width="1.2"/>
<circle cx="143.1" cy="834.07" r="2.4" fill="#6b6bee" stroke="#16164e" stroke-width="1.2"/>
<circle cx="146.6" cy="834.07" r="2.4" fill="#6b6bee" stroke="#16164e" stroke-width="1.2"/>
<circle cx="133" cy="839.84" r="2.4" fill="#6b6bee" stroke="#16164e" stroke-width="1.2"/>
<rect x="225.5" y="774.22" width="4.4" height="4.4" fill="#fff" stroke="#5050c8" stroke-width="1.2"/>
<rect x="225.5" y="803.04" width="4.4" height="4.4" fill="#fff" stroke="#5050c8" stroke-width="1.2"/>
<rect x="211.9" y="808.81" width="4.4" height="4.4" fill="#fff" stroke="#5050c8" stroke-width="1.2"/>
<rect x="228.8" y="808.81" width="4.4" height="4.4" fill="#fff" stroke="#5050c8" stroke-width="1.2"/>
<rect x="218.8" y="814.57" width="4.4" height="4.4" fill="#fff" stroke="#5050c8" stroke-width="1.2"/>
<rect x="225.5" y="814.57" width="4.4" height="4.4" fill="#fff" stroke="#5050c8" stroke-width="1.2"/>
<rect x="232.1" y="814.57" width="4.4" height="4.4" fill="#fff" stroke="#5050c8" stroke-width="1.2"/>
<rect x="239.1" y="814.57" width="4.4" height="4.4" fill="#fff" stroke="#5050c8" stroke-width="1.2"/>
<rect x="212.3" y="820.34" width="4.4" height="4.4" fill="#fff" stroke="#5050c8" stroke-width="1.2"/>
<rect x="216.8" y="820.34" width="4.4" height="4.4" fill="#fff" stroke="#5050c8" stroke-width="1.2"/>
<rect x="221.3" y="820.34" width="4.4" height="4.4" fill="#fff" stroke="#5050c8" stroke-width="1.2"/>
<rect x="225.8" y="820.34" width="4.4" height="4.4" fill="#fff" stroke="#5050c8" stroke-width="1.2"/>
<rect x="230.3" y="820.34" width="4.4" height="4.4" fill="#fff" stroke="#5050c8" stroke-width="1.2"/>
<rect x="234.8" y="820.34" width="4.4" height="4.4" fill="#fff" stroke="#5050c8" stroke-width="1.2"/>
<rect x="239.1" y="820.34" width="4.4" height="4.4" fill="#fff" stroke="#5050c8" stroke-width="1.2"/>
<rect x="211.9" y="826.11" width="4.4" height="4.4" fill="#fff" stroke="#5050c8" stroke-width="1.2"/>
<rect x="215.5" y="826.11" width="4.4" height="4.4" fill="#fff" stroke="#5050c8" stroke-width="1.2"/>
<rect x="218.8" y="826.11" width="4.4" height="4.4" fill="#fff" stroke="#5050c8" stroke-width="1.2"/>
<rect x="222.2" y="826.11" width="4.4" height="4.4" fill="#fff" stroke="#5050c8" stroke-width="1.2"/>
<rect x="225.5" y="826.11" width="4.4" height="4.4" fill="#fff" stroke="#5050c8" stroke-width="1.2"/>
<rect x="228.8" y="826.11" width="4.4" height="4.4" fill="#fff" stroke="#5050c8" stroke-width="1.2"/>
<rect x="232.1" y="826.11" width="4.4" height="4.4" fill="#fff" stroke="#5050c8" stroke-width="1.2"/>
<rect x="239.1" y="826.11" width="4.4" height="4.4" fill="#fff" stroke="#5050c8" stroke-width="1.2"/>
<rect x="211.9" y="831.87" width="4.4" height="4.4" fill="#fff" stroke="#5050c8" stroke-width="1.2"/>
<rect x="218.8" y="831.87" width="4.4" height="4.4" fill="#fff" stroke="#5050c8" stroke-width="1.2"/>
<rect x="239.1" y="831.87" width="4.4" height="4.4" fill="#fff" stroke="#5050c8" stroke-width="1.2"/>
<rect x="225.5" y="837.63" width="4.4" height="4.4" fill="#fff" stroke="#5050c8" stroke-width="1.2"/>
<rect x="232.1" y="837.63" width="4.4" height="4.4" fill="#fff" stroke="#5050c8" stroke-width="1.2"/>
<rect x="225.5" y="523.7" width="4.4" height="4.4" fill="#fff" stroke="#5050c8" stroke-width="1.2"/>
<rect x="272.4" y="756.92" width="4.4" height="4.4" fill="#5252dc" stroke="#1c1c5a" stroke-width="1.1"/>
<rect x="279.5" y="774.22" width="4.4" height="4.4" fill="#5252dc" stroke="#1c1c5a" stroke-width="1.1"/>
<rect x="266.1" y="779.99" width="4.4" height="4.4" fill="#5252dc" stroke="#1c1c5a" stroke-width="1.1"/>
<rect x="272.4" y="779.99" width="4.4" height="4.4" fill="#5252dc" stroke="#1c1c5a" stroke-width="1.1"/>
<rect x="279.5" y="785.75" width="4.4" height="4.4" fill="#5252dc" stroke="#1c1c5a" stroke-width="1.1"/>
<rect x="272.4" y="791.51" width="4.4" height="4.4" fill="#5252dc" stroke="#1c1c5a" stroke-width="1.1"/>
<rect x="259.5" y="803.04" width="4.4" height="4.4" fill="#5252dc" stroke="#1c1c5a" stroke-width="1.1"/>
<rect x="266.1" y="803.04" width="4.4" height="4.4" fill="#5252dc" stroke="#1c1c5a" stroke-width="1.1"/>
<rect x="272.4" y="803.04" width="4.4" height="4.4" fill="#5252dc" stroke="#1c1c5a" stroke-width="1.1"/>
<rect x="279.5" y="803.04" width="4.4" height="4.4" fill="#5252dc" stroke="#1c1c5a" stroke-width="1.1"/>
<rect x="269.5" y="808.81" width="4.4" height="4.4" fill="#5252dc" stroke="#1c1c5a" stroke-width="1.1"/>
<rect x="282.8" y="808.81" width="4.4" height="4.4" fill="#5252dc" stroke="#1c1c5a" stroke-width="1.1"/>
<rect x="259.5" y="814.57" width="4.4" height="4.4" fill="#5252dc" stroke="#1c1c5a" stroke-width="1.1"/>
<rect x="262.8" y="814.57" width="4.4" height="4.4" fill="#5252dc" stroke="#1c1c5a" stroke-width="1.1"/>
<rect x="266.1" y="814.57" width="4.4" height="4.4" fill="#5252dc" stroke="#1c1c5a" stroke-width="1.1"/>
<rect x="269.5" y="814.57" width="4.4" height="4.4" fill="#5252dc" stroke="#1c1c5a" stroke-width="1.1"/>
<rect x="272.8" y="814.57" width="4.4" height="4.4" fill="#5252dc" stroke="#1c1c5a" stroke-width="1.1"/>
<rect x="276.1" y="814.57" width="4.4" height="4.4" fill="#5252dc" stroke="#1c1c5a" stroke-width="1.1"/>
<rect x="279.5" y="814.57" width="4.4" height="4.4" fill="#5252dc" stroke="#1c1c5a" stroke-width="1.1"/>
<rect x="282.8" y="814.57" width="4.4" height="4.4" fill="#5252dc" stroke="#1c1c5a" stroke-width="1.1"/>
<rect x="286.1" y="814.57" width="4.4" height="4.4" fill="#5252dc" stroke="#1c1c5a" stroke-width="1.1"/>
<rect x="262.8" y="820.34" width="4.4" height="4.4" fill="#5252dc" stroke="#1c1c5a" stroke-width="1.1"/>
<rect x="282.8" y="820.34" width="4.4" height="4.4" fill="#5252dc" stroke="#1c1c5a" stroke-width="1.1"/>
<rect x="259.5" y="826.11" width="4.4" height="4.4" fill="#5252dc" stroke="#1c1c5a" stroke-width="1.1"/>
<rect x="266.1" y="826.11" width="4.4" height="4.4" fill="#5252dc" stroke="#1c1c5a" stroke-width="1.1"/>
<rect x="269.5" y="826.11" width="4.4" height="4.4" fill="#5252dc" stroke="#1c1c5a" stroke-width="1.1"/>
<rect x="272.8" y="826.11" width="4.4" height="4.4" fill="#5252dc" stroke="#1c1c5a" stroke-width="1.1"/>
<rect x="276.1" y="826.11" width="4.4" height="4.4" fill="#5252dc" stroke="#1c1c5a" stroke-width="1.1"/>
<rect x="279.5" y="826.11" width="4.4" height="4.4" fill="#5252dc" stroke="#1c1c5a" stroke-width="1.1"/>
<rect x="286.1" y="826.11" width="4.4" height="4.4" fill="#5252dc" stroke="#1c1c5a" stroke-width="1.1"/>
<rect x="279.5" y="831.87" width="4.4" height="4.4" fill="#5252dc" stroke="#1c1c5a" stroke-width="1.1"/>
<rect x="272.4" y="837.63" width="4.4" height="4.4" fill="#5252dc" stroke="#1c1c5a" stroke-width="1.1"/>
<rect x="272.8" y="568.1" width="4.4" height="4.4" fill="#5252dc" stroke="#1c1c5a" stroke-width="1.1"/>
<line x1="70.7" y1="828.31" x2="100.8" y2="828.31" stroke="#000" stroke-width="2.8" stroke-linecap="round"/>
<line x1="118.1" y1="799.48" x2="147.9" y2="799.48" stroke="#000" stroke-width="2.8" stroke-linecap="round"/>
<line x1="212.5" y1="822.54" x2="242.8" y2="822.54" stroke="#000" stroke-width="2.8" stroke-linecap="round"/>
<line x1="260.5" y1="816.77" x2="289.5" y2="816.77" stroke="#000" stroke-width="2.8" stroke-linecap="round"/>
<line x1="458.4" y1="514" x2="458.4" y2="842.4" stroke="#000" stroke-width="1.7" stroke-linecap="butt"/>
<line x1="452.5" y1="841.7" x2="672" y2="841.7" stroke="#000" stroke-width="1.8" stroke-linecap="butt"/>
<text x="451.3" y="848.5" font-family='"Liberation Serif", serif' font-size="19.3" fill="#000" font-weight="bold" text-anchor="end" >0</text>
<line x1="452.8" y1="759.9" x2="458.4" y2="759.9" stroke="#000" stroke-width="1.5" stroke-linecap="butt"/>
<text x="451.3" y="766.7" font-family='"Liberation Serif", serif' font-size="19.3" fill="#000" font-weight="bold" text-anchor="end" >5000</text>
<line x1="452.8" y1="678.1" x2="458.4" y2="678.1" stroke="#000" stroke-width="1.5" stroke-linecap="butt"/>
<text x="451.3" y="684.9" font-family='"Liberation Serif", serif' font-size="19.3" fill="#000" font-weight="bold" text-anchor="end" >10000</text>
<line x1="452.8" y1="596.3" x2="458.4" y2="596.3" stroke="#000" stroke-width="1.5" stroke-linecap="butt"/>
<text x="451.3" y="603.1" font-family='"Liberation Serif", serif' font-size="19.3" fill="#000" font-weight="bold" text-anchor="end" >15000</text>
<line x1="452.8" y1="514.5" x2="458.4" y2="514.5" stroke="#000" stroke-width="1.5" stroke-linecap="butt"/>
<text x="451.3" y="521.3" font-family='"Liberation Serif", serif' font-size="19.3" fill="#000" font-weight="bold" text-anchor="end" >20000</text>
<line x1="511.5" y1="841.7" x2="511.5" y2="847" stroke="#000" stroke-width="1.5" stroke-linecap="butt"/>
<line x1="617.9" y1="841.7" x2="617.9" y2="847" stroke="#000" stroke-width="1.5" stroke-linecap="butt"/>
<text transform="translate(386.6,861) rotate(-90)" font-family='"Liberation Sans", sans-serif' font-size="19.4" textLength="359" lengthAdjust="spacingAndGlyphs">Total ELISpot response (SFU/10<tspan font-size="11.5" dy="-7">6</tspan><tspan dy="7"> PBMC)</tspan></text>
<text x="511.3" y="877.6" font-family='"Liberation Sans", sans-serif' font-size="18" fill="#000" text-anchor="middle" textLength="63" lengthAdjust="spacingAndGlyphs" >Primary</text>
<text x="510.8" y="900.5" font-family='"Liberation Sans", sans-serif' font-size="18" fill="#000" text-anchor="middle" textLength="64" lengthAdjust="spacingAndGlyphs" >effector</text>
<text x="618.7" y="877.6" font-family='"Liberation Sans", sans-serif' font-size="18" fill="#000" text-anchor="middle" textLength="85" lengthAdjust="spacingAndGlyphs" >Secondary</text>
<text x="618.8" y="900.5" font-family='"Liberation Sans", sans-serif' font-size="18" fill="#000" text-anchor="middle" textLength="64.2" lengthAdjust="spacingAndGlyphs" >effector</text>
<path d="M512.8 523.4L512.8 519.6Q512.8 517.1 515.3 517.1L618.7 517.1Q621.2 517.1 621.2 519.6L621.2 523.4" stroke="#333" stroke-width="1.3" fill="none"/>
<path d="M555.6 500L555.6 507M552.57 501.75L558.63 505.25M558.63 501.75L552.57 505.25" stroke="#000" stroke-width="1.3" stroke-linecap="round" fill="none"/>
<path d="M566 500L566 507M562.97 501.75L569.03 505.25M569.03 501.75L562.97 505.25" stroke="#000" stroke-width="1.3" stroke-linecap="round" fill="none"/>
<path d="M576.3 500L576.3 507M573.27 501.75L579.33 505.25M579.33 501.75L573.27 505.25" stroke="#000" stroke-width="1.3" stroke-linecap="round" fill="none"/>
<circle cx="511.3" cy="544.4" r="4" fill="none" stroke="#111" stroke-width="1.25"/>
<circle cx="511.3" cy="615" r="4" fill="none" stroke="#111" stroke-width="1.25"/>
<circle cx="523.1" cy="630.4" r="4" fill="none" stroke="#111" stroke-width="1.25"/>
<circle cx="511.3" cy="639.3" r="4" fill="none" stroke="#111" stroke-width="1.25"/>
<circle cx="511.3" cy="659.4" r="4" fill="none" stroke="#111" stroke-width="1.25"/>
<circle cx="523.1" cy="676.9" r="4" fill="none" stroke="#111" stroke-width="1.25"/>
<circle cx="511.4" cy="687.4" r="4" fill="none" stroke="#111" stroke-width="1.25"/>
<circle cx="523.1" cy="690.1" r="4" fill="none" stroke="#111" stroke-width="1.25"/>
<circle cx="499.8" cy="696.3" r="4" fill="none" stroke="#111" stroke-width="1.25"/>
<circle cx="488" cy="703.4" r="4" fill="none" stroke="#111" stroke-width="1.25"/>
<circle cx="511.4" cy="700.7" r="4" fill="none" stroke="#111" stroke-width="1.25"/>
<circle cx="517.6" cy="700.7" r="4" fill="none" stroke="#111" stroke-width="1.25"/>
<circle cx="534.6" cy="705.5" r="4" fill="none" stroke="#111" stroke-width="1.25"/>
<circle cx="499.8" cy="708.1" r="4" fill="none" stroke="#111" stroke-width="1.25"/>
<circle cx="511.4" cy="712.3" r="4" fill="none" stroke="#111" stroke-width="1.25"/>
<circle cx="523.1" cy="711.1" r="4" fill="none" stroke="#111" stroke-width="1.25"/>
<circle cx="511.4" cy="726.7" r="4" fill="none" stroke="#111" stroke-width="1.25"/>
<circle cx="488" cy="731.1" r="4" fill="none" stroke="#111" stroke-width="1.25"/>
<circle cx="499.8" cy="733.3" r="4" fill="none" stroke="#111" stroke-width="1.25"/>
<circle cx="534.6" cy="732.6" r="4" fill="none" stroke="#111" stroke-width="1.25"/>
<circle cx="523.1" cy="734.5" r="4" fill="none" stroke="#111" stroke-width="1.25"/>
<circle cx="511.4" cy="739.6" r="4" fill="none" stroke="#111" stroke-width="1.25"/>
<circle cx="499.8" cy="752.7" r="4" fill="none" stroke="#111" stroke-width="1.25"/>
<circle cx="511.4" cy="753.3" r="4" fill="none" stroke="#111" stroke-width="1.25"/>
<circle cx="493.9" cy="757.1" r="4" fill="none" stroke="#111" stroke-width="1.25"/>
<circle cx="505.3" cy="759.2" r="4" fill="none" stroke="#111" stroke-width="1.25"/>
<circle cx="529" cy="757.1" r="4" fill="none" stroke="#111" stroke-width="1.25"/>
<circle cx="540.6" cy="755.6" r="4" fill="none" stroke="#111" stroke-width="1.25"/>
<circle cx="488" cy="764.1" r="4" fill="none" stroke="#111" stroke-width="1.25"/>
<circle cx="499.8" cy="764.8" r="4" fill="none" stroke="#111" stroke-width="1.25"/>
<circle cx="517.1" cy="761.1" r="4" fill="none" stroke="#111" stroke-width="1.25"/>
<circle cx="523.1" cy="764.8" r="4" fill="none" stroke="#111" stroke-width="1.25"/>
<circle cx="534.6" cy="764.8" r="4" fill="none" stroke="#111" stroke-width="1.25"/>
<circle cx="505.7" cy="768.5" r="4" fill="none" stroke="#111" stroke-width="1.25"/>
<circle cx="511.4" cy="765.6" r="4" fill="none" stroke="#111" stroke-width="1.25"/>
<circle cx="517.6" cy="767" r="4" fill="none" stroke="#111" stroke-width="1.25"/>
<circle cx="534.6" cy="772.2" r="4" fill="none" stroke="#111" stroke-width="1.25"/>
<circle cx="488" cy="774" r="4" fill="none" stroke="#111" stroke-width="1.25"/>
<circle cx="499.8" cy="774.9" r="4" fill="none" stroke="#111" stroke-width="1.25"/>
<circle cx="523.1" cy="774.9" r="4" fill="none" stroke="#111" stroke-width="1.25"/>
<circle cx="511.4" cy="778.1" r="4" fill="none" stroke="#111" stroke-width="1.25"/>
<circle cx="505.7" cy="785.6" r="4" fill="none" stroke="#111" stroke-width="1.25"/>
<circle cx="529" cy="784.4" r="4" fill="none" stroke="#111" stroke-width="1.25"/>
<circle cx="488" cy="789.7" r="4" fill="none" stroke="#111" stroke-width="1.25"/>
<circle cx="499.8" cy="790.3" r="4" fill="none" stroke="#111" stroke-width="1.25"/>
<circle cx="511.4" cy="791.8" r="4" fill="none" stroke="#111" stroke-width="1.25"/>
<circle cx="517.1" cy="788.8" r="4" fill="none" stroke="#111" stroke-width="1.25"/>
<circle cx="523.1" cy="790.7" r="4" fill="none" stroke="#111" stroke-width="1.25"/>
<circle cx="534.6" cy="790.3" r="4" fill="none" stroke="#111" stroke-width="1.25"/>
<circle cx="529" cy="792" r="4" fill="none" stroke="#111" stroke-width="1.25"/>
<circle cx="482.5" cy="794.7" r="4" fill="none" stroke="#111" stroke-width="1.25"/>
<circle cx="488" cy="799.6" r="4" fill="none" stroke="#111" stroke-width="1.25"/>
<circle cx="493.9" cy="798.9" r="4" fill="none" stroke="#111" stroke-width="1.25"/>
<circle cx="499.8" cy="801.1" r="4" fill="none" stroke="#111" stroke-width="1.25"/>
<circle cx="505.7" cy="798.9" r="4" fill="none" stroke="#111" stroke-width="1.25"/>
<circle cx="511.4" cy="800.5" r="4" fill="none" stroke="#111" stroke-width="1.25"/>
<circle cx="517.1" cy="798.9" r="4" fill="none" stroke="#111" stroke-width="1.25"/>
<circle cx="523.1" cy="800.5" r="4" fill="none" stroke="#111" stroke-width="1.25"/>
<circle cx="529" cy="798.9" r="4" fill="none" stroke="#111" stroke-width="1.25"/>
<circle cx="535.3" cy="800" r="4" fill="none" stroke="#111" stroke-width="1.25"/>
<circle cx="482" cy="806.7" r="4" fill="none" stroke="#111" stroke-width="1.25"/>
<circle cx="488" cy="811.3" r="4" fill="none" stroke="#111" stroke-width="1.25"/>
<circle cx="494" cy="808" r="4" fill="none" stroke="#111" stroke-width="1.25"/>
<circle cx="493.3" cy="818" r="4" fill="none" stroke="#111" stroke-width="1.25"/>
<circle cx="499.3" cy="814" r="4" fill="none" stroke="#111" stroke-width="1.25"/>
<circle cx="505.3" cy="809.3" r="4" fill="none" stroke="#111" stroke-width="1.25"/>
<circle cx="505.3" cy="820.7" r="4" fill="none" stroke="#111" stroke-width="1.25"/>
<circle cx="508.7" cy="805.3" r="4" fill="none" stroke="#111" stroke-width="1.25"/>
<circle cx="512" cy="804.7" r="4" fill="none" stroke="#111" stroke-width="1.25"/>
<circle cx="515.3" cy="806" r="4" fill="none" stroke="#111" stroke-width="1.25"/>
<circle cx="510.7" cy="815.3" r="4" fill="none" stroke="#111" stroke-width="1.25"/>
<circle cx="517.3" cy="818" r="4" fill="none" stroke="#111" stroke-width="1.25"/>
<circle cx="517.3" cy="809.3" r="4" fill="none" stroke="#111" stroke-width="1.25"/>
<circle cx="523.3" cy="814" r="4" fill="none" stroke="#111" stroke-width="1.25"/>
<circle cx="525.3" cy="804" r="4" fill="none" stroke="#111" stroke-width="1.25"/>
<circle cx="528.7" cy="818" r="4" fill="none" stroke="#111" stroke-width="1.25"/>
<circle cx="528.7" cy="809.3" r="4" fill="none" stroke="#111" stroke-width="1.25"/>
<circle cx="534" cy="811.3" r="4" fill="none" stroke="#111" stroke-width="1.25"/>
<circle cx="540.7" cy="808" r="4" fill="none" stroke="#111" stroke-width="1.25"/>
<circle cx="488" cy="822.7" r="4" fill="none" stroke="#111" stroke-width="1.25"/>
<circle cx="535.3" cy="822" r="4" fill="none" stroke="#111" stroke-width="1.25"/>
<circle cx="485.3" cy="829.3" r="4" fill="none" stroke="#111" stroke-width="1.25"/>
<circle cx="500" cy="826" r="4" fill="none" stroke="#111" stroke-width="1.25"/>
<circle cx="523.3" cy="826" r="4" fill="none" stroke="#111" stroke-width="1.25"/>
<circle cx="512.7" cy="828" r="4" fill="none" stroke="#111" stroke-width="1.25"/>
<circle cx="538" cy="829.3" r="4" fill="none" stroke="#111" stroke-width="1.25"/>
<circle cx="482" cy="835.3" r="4" fill="none" stroke="#111" stroke-width="1.25"/>
<circle cx="496.7" cy="832.7" r="4" fill="none" stroke="#111" stroke-width="1.25"/>
<circle cx="510" cy="834" r="4" fill="none" stroke="#111" stroke-width="1.25"/>
<circle cx="516" cy="835.3" r="4" fill="none" stroke="#111" stroke-width="1.25"/>
<circle cx="526.7" cy="833.3" r="4" fill="none" stroke="#111" stroke-width="1.25"/>
<circle cx="541.3" cy="836" r="4" fill="none" stroke="#111" stroke-width="1.25"/>
<circle cx="488.7" cy="837" r="4" fill="none" stroke="#111" stroke-width="1.25"/>
<circle cx="502" cy="837" r="4" fill="none" stroke="#111" stroke-width="1.25"/>
<circle cx="508.7" cy="837.5" r="4" fill="none" stroke="#111" stroke-width="1.25"/>
<circle cx="520.7" cy="837" r="4" fill="none" stroke="#111" stroke-width="1.25"/>
<circle cx="528.7" cy="837" r="4" fill="none" stroke="#111" stroke-width="1.25"/>
<circle cx="535.3" cy="837.3" r="4" fill="none" stroke="#111" stroke-width="1.25"/>
<circle cx="512" cy="830.5" r="4" fill="none" stroke="#111" stroke-width="1.25"/>
<circle cx="494" cy="838" r="4" fill="none" stroke="#111" stroke-width="1.25"/>
<circle cx="514" cy="838" r="4" fill="none" stroke="#111" stroke-width="1.25"/>
<line x1="475.4" y1="796.4" x2="547.2" y2="796.4" stroke="#000" stroke-width="1.8" stroke-linecap="butt"/>
<rect x="614.9" y="811" width="6.8" height="6.8" fill="none" stroke="#111" stroke-width="1.25"/>
<rect x="626.3" y="814.8" width="6.8" height="6.8" fill="none" stroke="#111" stroke-width="1.25"/>
<rect x="603.1" y="825.5" width="6.8" height="6.8" fill="none" stroke="#111" stroke-width="1.25"/>
<rect x="614.9" y="825.5" width="6.8" height="6.8" fill="none" stroke="#111" stroke-width="1.25"/>
<rect x="618.2" y="827.7" width="6.8" height="6.8" fill="none" stroke="#111" stroke-width="1.25"/>
<rect x="629.5" y="827" width="6.8" height="6.8" fill="none" stroke="#111" stroke-width="1.25"/>
<rect x="612.7" y="827" width="6.8" height="6.8" fill="none" stroke="#111" stroke-width="1.25"/>
<rect x="585.3" y="832.2" width="6.8" height="6.8" fill="none" stroke="#111" stroke-width="1.25"/>
<rect x="597.2" y="832.9" width="6.8" height="6.8" fill="none" stroke="#111" stroke-width="1.25"/>
<rect x="643.8" y="832.2" width="6.8" height="6.8" fill="none" stroke="#111" stroke-width="1.25"/>
<rect x="591.2" y="836.6" width="6.8" height="6.8" fill="none" stroke="#111" stroke-width="1.25"/>
<rect x="601.6" y="836.6" width="6.8" height="6.8" fill="none" stroke="#111" stroke-width="1.25"/>
<rect x="610.6" y="836.6" width="6.8" height="6.8" fill="none" stroke="#111" stroke-width="1.25"/>
<rect x="619.6" y="836.6" width="6.8" height="6.8" fill="none" stroke="#111" stroke-width="1.25"/>
<rect x="626.6" y="836.6" width="6.8" height="6.8" fill="none" stroke="#111" stroke-width="1.25"/>
<rect x="637.6" y="836.6" width="6.8" height="6.8" fill="none" stroke="#111" stroke-width="1.25"/>
<rect x="591.2" y="838.8" width="6.8" height="6.8" fill="none" stroke="#111" stroke-width="1.25"/>
<rect x="601.6" y="838.8" width="6.8" height="6.8" fill="none" stroke="#111" stroke-width="1.25"/>
<rect x="626.6" y="838.8" width="6.8" height="6.8" fill="none" stroke="#111" stroke-width="1.25"/>
<rect x="637.6" y="838.8" width="6.8" height="6.8" fill="none" stroke="#111" stroke-width="1.25"/>
<rect x="614.6" y="839.6" width="6.8" height="6.8" fill="none" stroke="#111" stroke-width="1.25"/>
<line x1="582" y1="836.7" x2="654.6" y2="836.7" stroke="#000" stroke-width="1.8" stroke-linecap="butt"/>
</svg>
</body></html>
